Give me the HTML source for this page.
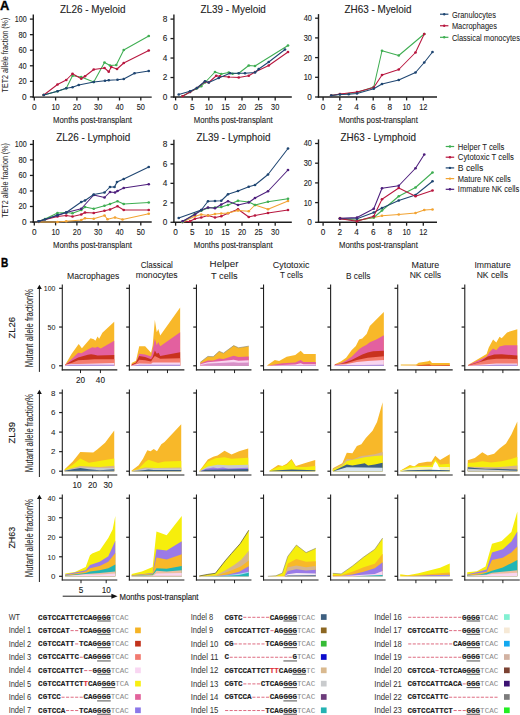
<!DOCTYPE html>
<html><head><meta charset="utf-8"><style>
html,body{margin:0;padding:0;background:#fff;overflow:hidden;}
svg{display:block;}
</style></head><body>
<svg width="520" height="715" viewBox="0 0 520 715">
<rect width="520" height="715" fill="#ffffff"/>
<text x="-0.10" y="9.60" font-size="12.2" font-family='"Liberation Sans", sans-serif' fill="#000" stroke="#000" stroke-width="0.35" font-weight="bold" textLength="9.3" lengthAdjust="spacingAndGlyphs">A</text>
<line x1="33.30" y1="14.60" x2="33.30" y2="97.80" stroke="#1e1e1e" stroke-width="1.4"/>
<line x1="29.90" y1="96.90" x2="33.30" y2="96.90" stroke="#1e1e1e" stroke-width="1.3"/>
<text x="26.70" y="99.80" font-size="8.2" font-family='"Liberation Sans", sans-serif' fill="#222222" stroke="#222222" stroke-width="0.1" text-anchor="end" textLength="4.6" lengthAdjust="spacingAndGlyphs">0</text>
<line x1="29.90" y1="81.34" x2="33.30" y2="81.34" stroke="#1e1e1e" stroke-width="1.3"/>
<text x="26.70" y="84.24" font-size="8.2" font-family='"Liberation Sans", sans-serif' fill="#222222" stroke="#222222" stroke-width="0.1" text-anchor="end" textLength="8.25" lengthAdjust="spacingAndGlyphs">20</text>
<line x1="29.90" y1="65.78" x2="33.30" y2="65.78" stroke="#1e1e1e" stroke-width="1.3"/>
<text x="26.70" y="68.68" font-size="8.2" font-family='"Liberation Sans", sans-serif' fill="#222222" stroke="#222222" stroke-width="0.1" text-anchor="end" textLength="8.25" lengthAdjust="spacingAndGlyphs">40</text>
<line x1="29.90" y1="50.22" x2="33.30" y2="50.22" stroke="#1e1e1e" stroke-width="1.3"/>
<text x="26.70" y="53.12" font-size="8.2" font-family='"Liberation Sans", sans-serif' fill="#222222" stroke="#222222" stroke-width="0.1" text-anchor="end" textLength="8.25" lengthAdjust="spacingAndGlyphs">60</text>
<line x1="29.90" y1="34.66" x2="33.30" y2="34.66" stroke="#1e1e1e" stroke-width="1.3"/>
<text x="26.70" y="37.56" font-size="8.2" font-family='"Liberation Sans", sans-serif' fill="#222222" stroke="#222222" stroke-width="0.1" text-anchor="end" textLength="8.25" lengthAdjust="spacingAndGlyphs">80</text>
<line x1="29.90" y1="19.10" x2="33.30" y2="19.10" stroke="#1e1e1e" stroke-width="1.3"/>
<text x="26.70" y="22.00" font-size="8.2" font-family='"Liberation Sans", sans-serif' fill="#222222" stroke="#222222" stroke-width="0.1" text-anchor="end" textLength="11.899999999999999" lengthAdjust="spacingAndGlyphs">100</text>
<line x1="32.60" y1="97.10" x2="151.70" y2="97.10" stroke="#1e1e1e" stroke-width="1.4"/>
<line x1="34.30" y1="97.10" x2="34.30" y2="100.50" stroke="#1e1e1e" stroke-width="1.3"/>
<text x="34.30" y="110.00" font-size="8.2" font-family='"Liberation Sans", sans-serif' fill="#222222" stroke="#222222" stroke-width="0.1" text-anchor="middle" textLength="4.6" lengthAdjust="spacingAndGlyphs">0</text>
<line x1="55.60" y1="97.10" x2="55.60" y2="100.50" stroke="#1e1e1e" stroke-width="1.3"/>
<text x="55.60" y="110.00" font-size="8.2" font-family='"Liberation Sans", sans-serif' fill="#222222" stroke="#222222" stroke-width="0.1" text-anchor="middle" textLength="8.25" lengthAdjust="spacingAndGlyphs">10</text>
<line x1="76.90" y1="97.10" x2="76.90" y2="100.50" stroke="#1e1e1e" stroke-width="1.3"/>
<text x="76.90" y="110.00" font-size="8.2" font-family='"Liberation Sans", sans-serif' fill="#222222" stroke="#222222" stroke-width="0.1" text-anchor="middle" textLength="8.25" lengthAdjust="spacingAndGlyphs">20</text>
<line x1="98.20" y1="97.10" x2="98.20" y2="100.50" stroke="#1e1e1e" stroke-width="1.3"/>
<text x="98.20" y="110.00" font-size="8.2" font-family='"Liberation Sans", sans-serif' fill="#222222" stroke="#222222" stroke-width="0.1" text-anchor="middle" textLength="8.25" lengthAdjust="spacingAndGlyphs">30</text>
<line x1="119.50" y1="97.10" x2="119.50" y2="100.50" stroke="#1e1e1e" stroke-width="1.3"/>
<text x="119.50" y="110.00" font-size="8.2" font-family='"Liberation Sans", sans-serif' fill="#222222" stroke="#222222" stroke-width="0.1" text-anchor="middle" textLength="8.25" lengthAdjust="spacingAndGlyphs">40</text>
<line x1="140.80" y1="97.10" x2="140.80" y2="100.50" stroke="#1e1e1e" stroke-width="1.3"/>
<text x="140.80" y="110.00" font-size="8.2" font-family='"Liberation Sans", sans-serif' fill="#222222" stroke="#222222" stroke-width="0.1" text-anchor="middle" textLength="8.25" lengthAdjust="spacingAndGlyphs">50</text>
<text x="53.10" y="122.60" font-size="9.9" font-family='"Liberation Sans", sans-serif' fill="#222222" stroke="#222222" stroke-width="0.1" textLength="78.8" lengthAdjust="spacingAndGlyphs">Months post-transplant</text>
<text x="60.00" y="12.60" font-size="10.6" font-family='"Liberation Sans", sans-serif' fill="#222222" stroke="#222222" stroke-width="0.1" textLength="65.5" lengthAdjust="spacingAndGlyphs">ZL26 - Myeloid</text>
<polyline points="43.75,95.00 57.50,91.25 66.25,88.25 72.50,75.75 81.25,77.00 93.75,82.00 104.50,62.50 110.00,65.50 116.25,65.00 123.75,50.00 148.75,36.00" fill="none" stroke="#3fae52" stroke-width="1.05" stroke-linejoin="round"/>
<circle cx="43.75" cy="95.00" r="1.35" fill="#3fae52"/>
<circle cx="57.50" cy="91.25" r="1.35" fill="#3fae52"/>
<circle cx="66.25" cy="88.25" r="1.35" fill="#3fae52"/>
<circle cx="72.50" cy="75.75" r="1.35" fill="#3fae52"/>
<circle cx="81.25" cy="77.00" r="1.35" fill="#3fae52"/>
<circle cx="93.75" cy="82.00" r="1.35" fill="#3fae52"/>
<circle cx="104.50" cy="62.50" r="1.35" fill="#3fae52"/>
<circle cx="110.00" cy="65.50" r="1.35" fill="#3fae52"/>
<circle cx="116.25" cy="65.00" r="1.35" fill="#3fae52"/>
<circle cx="123.75" cy="50.00" r="1.35" fill="#3fae52"/>
<circle cx="148.75" cy="36.00" r="1.35" fill="#3fae52"/>
<polyline points="43.75,95.00 57.50,84.50 66.25,80.00 72.50,73.75 81.25,78.75 85.00,76.25 93.75,69.50 104.50,68.00 108.75,71.75 111.25,67.00 117.00,69.00 123.75,63.00 148.75,50.50" fill="none" stroke="#b8173f" stroke-width="1.05" stroke-linejoin="round"/>
<circle cx="43.75" cy="95.00" r="1.35" fill="#b8173f"/>
<circle cx="57.50" cy="84.50" r="1.35" fill="#b8173f"/>
<circle cx="66.25" cy="80.00" r="1.35" fill="#b8173f"/>
<circle cx="72.50" cy="73.75" r="1.35" fill="#b8173f"/>
<circle cx="81.25" cy="78.75" r="1.35" fill="#b8173f"/>
<circle cx="85.00" cy="76.25" r="1.35" fill="#b8173f"/>
<circle cx="93.75" cy="69.50" r="1.35" fill="#b8173f"/>
<circle cx="104.50" cy="68.00" r="1.35" fill="#b8173f"/>
<circle cx="108.75" cy="71.75" r="1.35" fill="#b8173f"/>
<circle cx="111.25" cy="67.00" r="1.35" fill="#b8173f"/>
<circle cx="117.00" cy="69.00" r="1.35" fill="#b8173f"/>
<circle cx="123.75" cy="63.00" r="1.35" fill="#b8173f"/>
<circle cx="148.75" cy="50.50" r="1.35" fill="#b8173f"/>
<polyline points="43.75,95.00 57.50,91.25 66.25,88.25 72.50,87.25 78.75,85.00 93.75,82.00 105.00,80.75 108.75,80.25 117.50,79.75 123.75,79.00 134.50,73.25 148.75,71.00" fill="none" stroke="#1f4672" stroke-width="1.05" stroke-linejoin="round"/>
<circle cx="43.75" cy="95.00" r="1.35" fill="#1f4672"/>
<circle cx="57.50" cy="91.25" r="1.35" fill="#1f4672"/>
<circle cx="66.25" cy="88.25" r="1.35" fill="#1f4672"/>
<circle cx="72.50" cy="87.25" r="1.35" fill="#1f4672"/>
<circle cx="78.75" cy="85.00" r="1.35" fill="#1f4672"/>
<circle cx="93.75" cy="82.00" r="1.35" fill="#1f4672"/>
<circle cx="105.00" cy="80.75" r="1.35" fill="#1f4672"/>
<circle cx="108.75" cy="80.25" r="1.35" fill="#1f4672"/>
<circle cx="117.50" cy="79.75" r="1.35" fill="#1f4672"/>
<circle cx="123.75" cy="79.00" r="1.35" fill="#1f4672"/>
<circle cx="134.50" cy="73.25" r="1.35" fill="#1f4672"/>
<circle cx="148.75" cy="71.00" r="1.35" fill="#1f4672"/>
<line x1="173.90" y1="14.50" x2="173.90" y2="97.70" stroke="#1e1e1e" stroke-width="1.4"/>
<line x1="170.50" y1="97.00" x2="173.90" y2="97.00" stroke="#1e1e1e" stroke-width="1.3"/>
<text x="167.30" y="99.90" font-size="8.2" font-family='"Liberation Sans", sans-serif' fill="#222222" stroke="#222222" stroke-width="0.1" text-anchor="end" textLength="4.6" lengthAdjust="spacingAndGlyphs">0</text>
<line x1="170.50" y1="77.53" x2="173.90" y2="77.53" stroke="#1e1e1e" stroke-width="1.3"/>
<text x="167.30" y="80.43" font-size="8.2" font-family='"Liberation Sans", sans-serif' fill="#222222" stroke="#222222" stroke-width="0.1" text-anchor="end" textLength="4.6" lengthAdjust="spacingAndGlyphs">2</text>
<line x1="170.50" y1="58.05" x2="173.90" y2="58.05" stroke="#1e1e1e" stroke-width="1.3"/>
<text x="167.30" y="60.95" font-size="8.2" font-family='"Liberation Sans", sans-serif' fill="#222222" stroke="#222222" stroke-width="0.1" text-anchor="end" textLength="4.6" lengthAdjust="spacingAndGlyphs">4</text>
<line x1="170.50" y1="38.57" x2="173.90" y2="38.57" stroke="#1e1e1e" stroke-width="1.3"/>
<text x="167.30" y="41.47" font-size="8.2" font-family='"Liberation Sans", sans-serif' fill="#222222" stroke="#222222" stroke-width="0.1" text-anchor="end" textLength="4.6" lengthAdjust="spacingAndGlyphs">6</text>
<line x1="170.50" y1="19.10" x2="173.90" y2="19.10" stroke="#1e1e1e" stroke-width="1.3"/>
<text x="167.30" y="22.00" font-size="8.2" font-family='"Liberation Sans", sans-serif' fill="#222222" stroke="#222222" stroke-width="0.1" text-anchor="end" textLength="4.6" lengthAdjust="spacingAndGlyphs">8</text>
<line x1="173.20" y1="97.00" x2="291.80" y2="97.00" stroke="#1e1e1e" stroke-width="1.4"/>
<line x1="175.60" y1="97.00" x2="175.60" y2="100.40" stroke="#1e1e1e" stroke-width="1.3"/>
<text x="175.60" y="109.90" font-size="8.2" font-family='"Liberation Sans", sans-serif' fill="#222222" stroke="#222222" stroke-width="0.1" text-anchor="middle" textLength="4.6" lengthAdjust="spacingAndGlyphs">0</text>
<line x1="192.20" y1="97.00" x2="192.20" y2="100.40" stroke="#1e1e1e" stroke-width="1.3"/>
<text x="192.20" y="109.90" font-size="8.2" font-family='"Liberation Sans", sans-serif' fill="#222222" stroke="#222222" stroke-width="0.1" text-anchor="middle" textLength="4.6" lengthAdjust="spacingAndGlyphs">5</text>
<line x1="208.80" y1="97.00" x2="208.80" y2="100.40" stroke="#1e1e1e" stroke-width="1.3"/>
<text x="208.80" y="109.90" font-size="8.2" font-family='"Liberation Sans", sans-serif' fill="#222222" stroke="#222222" stroke-width="0.1" text-anchor="middle" textLength="8.25" lengthAdjust="spacingAndGlyphs">10</text>
<line x1="225.40" y1="97.00" x2="225.40" y2="100.40" stroke="#1e1e1e" stroke-width="1.3"/>
<text x="225.40" y="109.90" font-size="8.2" font-family='"Liberation Sans", sans-serif' fill="#222222" stroke="#222222" stroke-width="0.1" text-anchor="middle" textLength="8.25" lengthAdjust="spacingAndGlyphs">15</text>
<line x1="242.00" y1="97.00" x2="242.00" y2="100.40" stroke="#1e1e1e" stroke-width="1.3"/>
<text x="242.00" y="109.90" font-size="8.2" font-family='"Liberation Sans", sans-serif' fill="#222222" stroke="#222222" stroke-width="0.1" text-anchor="middle" textLength="8.25" lengthAdjust="spacingAndGlyphs">20</text>
<line x1="258.60" y1="97.00" x2="258.60" y2="100.40" stroke="#1e1e1e" stroke-width="1.3"/>
<text x="258.60" y="109.90" font-size="8.2" font-family='"Liberation Sans", sans-serif' fill="#222222" stroke="#222222" stroke-width="0.1" text-anchor="middle" textLength="8.25" lengthAdjust="spacingAndGlyphs">25</text>
<line x1="275.20" y1="97.00" x2="275.20" y2="100.40" stroke="#1e1e1e" stroke-width="1.3"/>
<text x="275.20" y="109.90" font-size="8.2" font-family='"Liberation Sans", sans-serif' fill="#222222" stroke="#222222" stroke-width="0.1" text-anchor="middle" textLength="8.25" lengthAdjust="spacingAndGlyphs">30</text>
<text x="193.80" y="122.50" font-size="9.9" font-family='"Liberation Sans", sans-serif' fill="#222222" stroke="#222222" stroke-width="0.1" textLength="78.8" lengthAdjust="spacingAndGlyphs">Months post-transplant</text>
<text x="200.40" y="12.60" font-size="10.6" font-family='"Liberation Sans", sans-serif' fill="#222222" stroke="#222222" stroke-width="0.1" textLength="65.5" lengthAdjust="spacingAndGlyphs">ZL39 - Myeloid</text>
<polyline points="182.50,96.25 190.00,92.00 196.25,88.75 201.25,86.25 205.00,82.50 215.00,72.00 221.25,74.00 228.75,72.50 232.50,73.75 238.75,73.25 248.75,65.50 255.00,66.00 288.00,45.50" fill="none" stroke="#3fae52" stroke-width="1.05" stroke-linejoin="round"/>
<circle cx="182.50" cy="96.25" r="1.35" fill="#3fae52"/>
<circle cx="190.00" cy="92.00" r="1.35" fill="#3fae52"/>
<circle cx="196.25" cy="88.75" r="1.35" fill="#3fae52"/>
<circle cx="201.25" cy="86.25" r="1.35" fill="#3fae52"/>
<circle cx="205.00" cy="82.50" r="1.35" fill="#3fae52"/>
<circle cx="215.00" cy="72.00" r="1.35" fill="#3fae52"/>
<circle cx="221.25" cy="74.00" r="1.35" fill="#3fae52"/>
<circle cx="228.75" cy="72.50" r="1.35" fill="#3fae52"/>
<circle cx="232.50" cy="73.75" r="1.35" fill="#3fae52"/>
<circle cx="238.75" cy="73.25" r="1.35" fill="#3fae52"/>
<circle cx="248.75" cy="65.50" r="1.35" fill="#3fae52"/>
<circle cx="255.00" cy="66.00" r="1.35" fill="#3fae52"/>
<circle cx="288.00" cy="45.50" r="1.35" fill="#3fae52"/>
<polyline points="182.50,96.25 190.00,92.00 197.00,88.00 205.00,81.75 208.75,82.50 216.25,75.75 220.00,76.25 228.75,77.00 238.75,77.50 248.75,75.75 255.00,72.00 268.75,65.50 288.00,52.00" fill="none" stroke="#b8173f" stroke-width="1.05" stroke-linejoin="round"/>
<circle cx="182.50" cy="96.25" r="1.35" fill="#b8173f"/>
<circle cx="190.00" cy="92.00" r="1.35" fill="#b8173f"/>
<circle cx="197.00" cy="88.00" r="1.35" fill="#b8173f"/>
<circle cx="205.00" cy="81.75" r="1.35" fill="#b8173f"/>
<circle cx="208.75" cy="82.50" r="1.35" fill="#b8173f"/>
<circle cx="216.25" cy="75.75" r="1.35" fill="#b8173f"/>
<circle cx="220.00" cy="76.25" r="1.35" fill="#b8173f"/>
<circle cx="228.75" cy="77.00" r="1.35" fill="#b8173f"/>
<circle cx="238.75" cy="77.50" r="1.35" fill="#b8173f"/>
<circle cx="248.75" cy="75.75" r="1.35" fill="#b8173f"/>
<circle cx="255.00" cy="72.00" r="1.35" fill="#b8173f"/>
<circle cx="268.75" cy="65.50" r="1.35" fill="#b8173f"/>
<circle cx="288.00" cy="52.00" r="1.35" fill="#b8173f"/>
<polyline points="178.75,94.50 190.00,91.25 197.00,88.00 205.00,81.25 208.75,82.50 218.75,78.00 230.00,73.25 238.75,73.25 245.00,73.25 255.00,72.50 258.75,69.00 268.75,62.00 285.00,49.50" fill="none" stroke="#1f4672" stroke-width="1.05" stroke-linejoin="round"/>
<circle cx="178.75" cy="94.50" r="1.35" fill="#1f4672"/>
<circle cx="190.00" cy="91.25" r="1.35" fill="#1f4672"/>
<circle cx="197.00" cy="88.00" r="1.35" fill="#1f4672"/>
<circle cx="205.00" cy="81.25" r="1.35" fill="#1f4672"/>
<circle cx="208.75" cy="82.50" r="1.35" fill="#1f4672"/>
<circle cx="218.75" cy="78.00" r="1.35" fill="#1f4672"/>
<circle cx="230.00" cy="73.25" r="1.35" fill="#1f4672"/>
<circle cx="238.75" cy="73.25" r="1.35" fill="#1f4672"/>
<circle cx="245.00" cy="73.25" r="1.35" fill="#1f4672"/>
<circle cx="255.00" cy="72.50" r="1.35" fill="#1f4672"/>
<circle cx="258.75" cy="69.00" r="1.35" fill="#1f4672"/>
<circle cx="268.75" cy="62.00" r="1.35" fill="#1f4672"/>
<circle cx="285.00" cy="49.50" r="1.35" fill="#1f4672"/>
<line x1="318.50" y1="14.10" x2="318.50" y2="97.70" stroke="#1e1e1e" stroke-width="1.4"/>
<line x1="315.10" y1="97.00" x2="318.50" y2="97.00" stroke="#1e1e1e" stroke-width="1.3"/>
<text x="311.90" y="99.90" font-size="8.2" font-family='"Liberation Sans", sans-serif' fill="#222222" stroke="#222222" stroke-width="0.1" text-anchor="end" textLength="4.6" lengthAdjust="spacingAndGlyphs">0</text>
<line x1="315.10" y1="77.30" x2="318.50" y2="77.30" stroke="#1e1e1e" stroke-width="1.3"/>
<text x="311.90" y="80.20" font-size="8.2" font-family='"Liberation Sans", sans-serif' fill="#222222" stroke="#222222" stroke-width="0.1" text-anchor="end" textLength="8.25" lengthAdjust="spacingAndGlyphs">10</text>
<line x1="315.10" y1="57.60" x2="318.50" y2="57.60" stroke="#1e1e1e" stroke-width="1.3"/>
<text x="311.90" y="60.50" font-size="8.2" font-family='"Liberation Sans", sans-serif' fill="#222222" stroke="#222222" stroke-width="0.1" text-anchor="end" textLength="8.25" lengthAdjust="spacingAndGlyphs">20</text>
<line x1="315.10" y1="37.90" x2="318.50" y2="37.90" stroke="#1e1e1e" stroke-width="1.3"/>
<text x="311.90" y="40.80" font-size="8.2" font-family='"Liberation Sans", sans-serif' fill="#222222" stroke="#222222" stroke-width="0.1" text-anchor="end" textLength="8.25" lengthAdjust="spacingAndGlyphs">30</text>
<line x1="315.10" y1="18.20" x2="318.50" y2="18.20" stroke="#1e1e1e" stroke-width="1.3"/>
<text x="311.90" y="21.10" font-size="8.2" font-family='"Liberation Sans", sans-serif' fill="#222222" stroke="#222222" stroke-width="0.1" text-anchor="end" textLength="8.25" lengthAdjust="spacingAndGlyphs">40</text>
<line x1="317.80" y1="97.00" x2="437.00" y2="97.00" stroke="#1e1e1e" stroke-width="1.4"/>
<line x1="323.10" y1="97.00" x2="323.10" y2="100.40" stroke="#1e1e1e" stroke-width="1.3"/>
<text x="323.10" y="109.90" font-size="8.2" font-family='"Liberation Sans", sans-serif' fill="#222222" stroke="#222222" stroke-width="0.1" text-anchor="middle" textLength="4.6" lengthAdjust="spacingAndGlyphs">0</text>
<line x1="339.80" y1="97.00" x2="339.80" y2="100.40" stroke="#1e1e1e" stroke-width="1.3"/>
<text x="339.80" y="109.90" font-size="8.2" font-family='"Liberation Sans", sans-serif' fill="#222222" stroke="#222222" stroke-width="0.1" text-anchor="middle" textLength="4.6" lengthAdjust="spacingAndGlyphs">2</text>
<line x1="356.50" y1="97.00" x2="356.50" y2="100.40" stroke="#1e1e1e" stroke-width="1.3"/>
<text x="356.50" y="109.90" font-size="8.2" font-family='"Liberation Sans", sans-serif' fill="#222222" stroke="#222222" stroke-width="0.1" text-anchor="middle" textLength="4.6" lengthAdjust="spacingAndGlyphs">4</text>
<line x1="373.20" y1="97.00" x2="373.20" y2="100.40" stroke="#1e1e1e" stroke-width="1.3"/>
<text x="373.20" y="109.90" font-size="8.2" font-family='"Liberation Sans", sans-serif' fill="#222222" stroke="#222222" stroke-width="0.1" text-anchor="middle" textLength="4.6" lengthAdjust="spacingAndGlyphs">6</text>
<line x1="389.90" y1="97.00" x2="389.90" y2="100.40" stroke="#1e1e1e" stroke-width="1.3"/>
<text x="389.90" y="109.90" font-size="8.2" font-family='"Liberation Sans", sans-serif' fill="#222222" stroke="#222222" stroke-width="0.1" text-anchor="middle" textLength="4.6" lengthAdjust="spacingAndGlyphs">8</text>
<line x1="406.60" y1="97.00" x2="406.60" y2="100.40" stroke="#1e1e1e" stroke-width="1.3"/>
<text x="406.60" y="109.90" font-size="8.2" font-family='"Liberation Sans", sans-serif' fill="#222222" stroke="#222222" stroke-width="0.1" text-anchor="middle" textLength="8.25" lengthAdjust="spacingAndGlyphs">10</text>
<line x1="423.30" y1="97.00" x2="423.30" y2="100.40" stroke="#1e1e1e" stroke-width="1.3"/>
<text x="423.30" y="109.90" font-size="8.2" font-family='"Liberation Sans", sans-serif' fill="#222222" stroke="#222222" stroke-width="0.1" text-anchor="middle" textLength="8.25" lengthAdjust="spacingAndGlyphs">12</text>
<text x="339.00" y="122.50" font-size="9.9" font-family='"Liberation Sans", sans-serif' fill="#222222" stroke="#222222" stroke-width="0.1" textLength="78.8" lengthAdjust="spacingAndGlyphs">Months post-transplant</text>
<text x="344.50" y="12.60" font-size="10.6" font-family='"Liberation Sans", sans-serif' fill="#222222" stroke="#222222" stroke-width="0.1" textLength="67" lengthAdjust="spacingAndGlyphs">ZH63 - Myeloid</text>
<polyline points="331.25,95.50 340.00,94.25 357.00,92.50 373.75,87.00 382.00,50.75 398.75,55.50 424.25,34.00" fill="none" stroke="#3fae52" stroke-width="1.05" stroke-linejoin="round"/>
<circle cx="331.25" cy="95.50" r="1.35" fill="#3fae52"/>
<circle cx="340.00" cy="94.25" r="1.35" fill="#3fae52"/>
<circle cx="357.00" cy="92.50" r="1.35" fill="#3fae52"/>
<circle cx="373.75" cy="87.00" r="1.35" fill="#3fae52"/>
<circle cx="382.00" cy="50.75" r="1.35" fill="#3fae52"/>
<circle cx="398.75" cy="55.50" r="1.35" fill="#3fae52"/>
<circle cx="424.25" cy="34.00" r="1.35" fill="#3fae52"/>
<polyline points="331.25,95.50 340.00,94.00 357.00,92.00 373.75,87.50 382.00,75.00 398.75,69.50 415.50,52.50 424.25,34.00" fill="none" stroke="#b8173f" stroke-width="1.05" stroke-linejoin="round"/>
<circle cx="331.25" cy="95.50" r="1.35" fill="#b8173f"/>
<circle cx="340.00" cy="94.00" r="1.35" fill="#b8173f"/>
<circle cx="357.00" cy="92.00" r="1.35" fill="#b8173f"/>
<circle cx="373.75" cy="87.50" r="1.35" fill="#b8173f"/>
<circle cx="382.00" cy="75.00" r="1.35" fill="#b8173f"/>
<circle cx="398.75" cy="69.50" r="1.35" fill="#b8173f"/>
<circle cx="415.50" cy="52.50" r="1.35" fill="#b8173f"/>
<circle cx="424.25" cy="34.00" r="1.35" fill="#b8173f"/>
<polyline points="331.25,95.50 340.00,94.50 348.75,94.25 357.00,93.50 373.75,88.75 382.00,84.00 398.75,80.00 415.50,72.50 424.25,62.50 432.50,52.00" fill="none" stroke="#1f4672" stroke-width="1.05" stroke-linejoin="round"/>
<circle cx="331.25" cy="95.50" r="1.35" fill="#1f4672"/>
<circle cx="340.00" cy="94.50" r="1.35" fill="#1f4672"/>
<circle cx="348.75" cy="94.25" r="1.35" fill="#1f4672"/>
<circle cx="357.00" cy="93.50" r="1.35" fill="#1f4672"/>
<circle cx="373.75" cy="88.75" r="1.35" fill="#1f4672"/>
<circle cx="382.00" cy="84.00" r="1.35" fill="#1f4672"/>
<circle cx="398.75" cy="80.00" r="1.35" fill="#1f4672"/>
<circle cx="415.50" cy="72.50" r="1.35" fill="#1f4672"/>
<circle cx="424.25" cy="62.50" r="1.35" fill="#1f4672"/>
<circle cx="432.50" cy="52.00" r="1.35" fill="#1f4672"/>
<line x1="440.00" y1="14.20" x2="448.40" y2="14.20" stroke="#1f4672" stroke-width="1.2"/>
<circle cx="444.2" cy="14.2" r="1.2" fill="#1f4672"/>
<text x="451.90" y="17.50" font-size="8.7" font-family='"Liberation Sans", sans-serif' fill="#222222" stroke="#222222" stroke-width="0.05" textLength="44" lengthAdjust="spacingAndGlyphs">Granulocytes</text>
<line x1="440.00" y1="25.75" x2="448.40" y2="25.75" stroke="#b8173f" stroke-width="1.2"/>
<circle cx="444.2" cy="25.75" r="1.2" fill="#b8173f"/>
<text x="451.90" y="29.05" font-size="8.7" font-family='"Liberation Sans", sans-serif' fill="#222222" stroke="#222222" stroke-width="0.05" textLength="45" lengthAdjust="spacingAndGlyphs">Macrophages</text>
<line x1="440.00" y1="37.30" x2="448.40" y2="37.30" stroke="#3fae52" stroke-width="1.2"/>
<circle cx="444.2" cy="37.3" r="1.2" fill="#3fae52"/>
<text x="451.90" y="40.60" font-size="8.7" font-family='"Liberation Sans", sans-serif' fill="#222222" stroke="#222222" stroke-width="0.05" textLength="68" lengthAdjust="spacingAndGlyphs">Classical monocytes</text>
<text transform="translate(8.10,55.10) rotate(-90)" font-size="9" font-family='"Liberation Sans", sans-serif' fill="#222222" text-anchor="middle" textLength="74.8" lengthAdjust="spacingAndGlyphs">TET2 allele fraction (%)</text>
<line x1="33.30" y1="139.90" x2="33.30" y2="222.70" stroke="#1e1e1e" stroke-width="1.4"/>
<line x1="29.90" y1="222.00" x2="33.30" y2="222.00" stroke="#1e1e1e" stroke-width="1.3"/>
<text x="26.70" y="224.90" font-size="8.2" font-family='"Liberation Sans", sans-serif' fill="#222222" stroke="#222222" stroke-width="0.1" text-anchor="end" textLength="4.6" lengthAdjust="spacingAndGlyphs">0</text>
<line x1="29.90" y1="206.48" x2="33.30" y2="206.48" stroke="#1e1e1e" stroke-width="1.3"/>
<text x="26.70" y="209.38" font-size="8.2" font-family='"Liberation Sans", sans-serif' fill="#222222" stroke="#222222" stroke-width="0.1" text-anchor="end" textLength="8.25" lengthAdjust="spacingAndGlyphs">20</text>
<line x1="29.90" y1="190.96" x2="33.30" y2="190.96" stroke="#1e1e1e" stroke-width="1.3"/>
<text x="26.70" y="193.86" font-size="8.2" font-family='"Liberation Sans", sans-serif' fill="#222222" stroke="#222222" stroke-width="0.1" text-anchor="end" textLength="8.25" lengthAdjust="spacingAndGlyphs">40</text>
<line x1="29.90" y1="175.44" x2="33.30" y2="175.44" stroke="#1e1e1e" stroke-width="1.3"/>
<text x="26.70" y="178.34" font-size="8.2" font-family='"Liberation Sans", sans-serif' fill="#222222" stroke="#222222" stroke-width="0.1" text-anchor="end" textLength="8.25" lengthAdjust="spacingAndGlyphs">60</text>
<line x1="29.90" y1="159.92" x2="33.30" y2="159.92" stroke="#1e1e1e" stroke-width="1.3"/>
<text x="26.70" y="162.82" font-size="8.2" font-family='"Liberation Sans", sans-serif' fill="#222222" stroke="#222222" stroke-width="0.1" text-anchor="end" textLength="8.25" lengthAdjust="spacingAndGlyphs">80</text>
<line x1="29.90" y1="144.40" x2="33.30" y2="144.40" stroke="#1e1e1e" stroke-width="1.3"/>
<text x="26.70" y="147.30" font-size="8.2" font-family='"Liberation Sans", sans-serif' fill="#222222" stroke="#222222" stroke-width="0.1" text-anchor="end" textLength="11.899999999999999" lengthAdjust="spacingAndGlyphs">100</text>
<line x1="32.60" y1="222.00" x2="151.70" y2="222.00" stroke="#1e1e1e" stroke-width="1.4"/>
<line x1="34.30" y1="222.00" x2="34.30" y2="225.40" stroke="#1e1e1e" stroke-width="1.3"/>
<text x="34.30" y="234.90" font-size="8.2" font-family='"Liberation Sans", sans-serif' fill="#222222" stroke="#222222" stroke-width="0.1" text-anchor="middle" textLength="4.6" lengthAdjust="spacingAndGlyphs">0</text>
<line x1="55.60" y1="222.00" x2="55.60" y2="225.40" stroke="#1e1e1e" stroke-width="1.3"/>
<text x="55.60" y="234.90" font-size="8.2" font-family='"Liberation Sans", sans-serif' fill="#222222" stroke="#222222" stroke-width="0.1" text-anchor="middle" textLength="8.25" lengthAdjust="spacingAndGlyphs">10</text>
<line x1="76.90" y1="222.00" x2="76.90" y2="225.40" stroke="#1e1e1e" stroke-width="1.3"/>
<text x="76.90" y="234.90" font-size="8.2" font-family='"Liberation Sans", sans-serif' fill="#222222" stroke="#222222" stroke-width="0.1" text-anchor="middle" textLength="8.25" lengthAdjust="spacingAndGlyphs">20</text>
<line x1="98.20" y1="222.00" x2="98.20" y2="225.40" stroke="#1e1e1e" stroke-width="1.3"/>
<text x="98.20" y="234.90" font-size="8.2" font-family='"Liberation Sans", sans-serif' fill="#222222" stroke="#222222" stroke-width="0.1" text-anchor="middle" textLength="8.25" lengthAdjust="spacingAndGlyphs">30</text>
<line x1="119.50" y1="222.00" x2="119.50" y2="225.40" stroke="#1e1e1e" stroke-width="1.3"/>
<text x="119.50" y="234.90" font-size="8.2" font-family='"Liberation Sans", sans-serif' fill="#222222" stroke="#222222" stroke-width="0.1" text-anchor="middle" textLength="8.25" lengthAdjust="spacingAndGlyphs">40</text>
<line x1="140.80" y1="222.00" x2="140.80" y2="225.40" stroke="#1e1e1e" stroke-width="1.3"/>
<text x="140.80" y="234.90" font-size="8.2" font-family='"Liberation Sans", sans-serif' fill="#222222" stroke="#222222" stroke-width="0.1" text-anchor="middle" textLength="8.25" lengthAdjust="spacingAndGlyphs">50</text>
<text x="53.10" y="247.50" font-size="9.9" font-family='"Liberation Sans", sans-serif' fill="#222222" stroke="#222222" stroke-width="0.1" textLength="78.8" lengthAdjust="spacingAndGlyphs">Months post-transplant</text>
<text x="56.20" y="140.80" font-size="10.6" font-family='"Liberation Sans", sans-serif' fill="#222222" stroke="#222222" stroke-width="0.1" textLength="74" lengthAdjust="spacingAndGlyphs">ZL26 - Lymphoid</text>
<polyline points="38.75,222.00 57.50,222.00 66.25,221.25 81.25,220.00 85.00,218.25 93.75,218.75 104.50,215.50 107.50,219.25 115.00,217.50 122.50,219.50 148.75,213.75" fill="none" stroke="#f2a332" stroke-width="1.05" stroke-linejoin="round"/>
<circle cx="38.75" cy="222.00" r="1.35" fill="#f2a332"/>
<circle cx="57.50" cy="222.00" r="1.35" fill="#f2a332"/>
<circle cx="66.25" cy="221.25" r="1.35" fill="#f2a332"/>
<circle cx="81.25" cy="220.00" r="1.35" fill="#f2a332"/>
<circle cx="85.00" cy="218.25" r="1.35" fill="#f2a332"/>
<circle cx="93.75" cy="218.75" r="1.35" fill="#f2a332"/>
<circle cx="104.50" cy="215.50" r="1.35" fill="#f2a332"/>
<circle cx="107.50" cy="219.25" r="1.35" fill="#f2a332"/>
<circle cx="115.00" cy="217.50" r="1.35" fill="#f2a332"/>
<circle cx="122.50" cy="219.50" r="1.35" fill="#f2a332"/>
<circle cx="148.75" cy="213.75" r="1.35" fill="#f2a332"/>
<polyline points="38.75,221.25 57.50,216.50 66.25,215.50 72.50,216.50 81.25,214.50 85.00,212.50 93.75,213.00 104.50,210.75 110.00,209.50 117.50,206.25 123.75,210.00 148.75,210.00" fill="none" stroke="#b8173f" stroke-width="1.05" stroke-linejoin="round"/>
<circle cx="38.75" cy="221.25" r="1.35" fill="#b8173f"/>
<circle cx="57.50" cy="216.50" r="1.35" fill="#b8173f"/>
<circle cx="66.25" cy="215.50" r="1.35" fill="#b8173f"/>
<circle cx="72.50" cy="216.50" r="1.35" fill="#b8173f"/>
<circle cx="81.25" cy="214.50" r="1.35" fill="#b8173f"/>
<circle cx="85.00" cy="212.50" r="1.35" fill="#b8173f"/>
<circle cx="93.75" cy="213.00" r="1.35" fill="#b8173f"/>
<circle cx="104.50" cy="210.75" r="1.35" fill="#b8173f"/>
<circle cx="110.00" cy="209.50" r="1.35" fill="#b8173f"/>
<circle cx="117.50" cy="206.25" r="1.35" fill="#b8173f"/>
<circle cx="123.75" cy="210.00" r="1.35" fill="#b8173f"/>
<circle cx="148.75" cy="210.00" r="1.35" fill="#b8173f"/>
<polyline points="38.75,221.25 45.00,219.00 57.50,213.00 66.25,212.50 72.50,213.25 81.25,210.00 85.00,207.00 93.75,208.75 104.50,205.75 110.00,204.00 117.50,201.25 123.75,204.00 148.75,202.50" fill="none" stroke="#3fae52" stroke-width="1.05" stroke-linejoin="round"/>
<circle cx="38.75" cy="221.25" r="1.35" fill="#3fae52"/>
<circle cx="45.00" cy="219.00" r="1.35" fill="#3fae52"/>
<circle cx="57.50" cy="213.00" r="1.35" fill="#3fae52"/>
<circle cx="66.25" cy="212.50" r="1.35" fill="#3fae52"/>
<circle cx="72.50" cy="213.25" r="1.35" fill="#3fae52"/>
<circle cx="81.25" cy="210.00" r="1.35" fill="#3fae52"/>
<circle cx="85.00" cy="207.00" r="1.35" fill="#3fae52"/>
<circle cx="93.75" cy="208.75" r="1.35" fill="#3fae52"/>
<circle cx="104.50" cy="205.75" r="1.35" fill="#3fae52"/>
<circle cx="110.00" cy="204.00" r="1.35" fill="#3fae52"/>
<circle cx="117.50" cy="201.25" r="1.35" fill="#3fae52"/>
<circle cx="123.75" cy="204.00" r="1.35" fill="#3fae52"/>
<circle cx="148.75" cy="202.50" r="1.35" fill="#3fae52"/>
<polyline points="38.75,221.25 57.50,215.50 66.25,212.50 81.25,208.75 93.75,195.00 104.50,197.50 110.00,192.00 115.00,192.50 117.50,191.00 123.75,188.00 148.75,184.25" fill="none" stroke="#4e1f7d" stroke-width="1.05" stroke-linejoin="round"/>
<circle cx="38.75" cy="221.25" r="1.35" fill="#4e1f7d"/>
<circle cx="57.50" cy="215.50" r="1.35" fill="#4e1f7d"/>
<circle cx="66.25" cy="212.50" r="1.35" fill="#4e1f7d"/>
<circle cx="81.25" cy="208.75" r="1.35" fill="#4e1f7d"/>
<circle cx="93.75" cy="195.00" r="1.35" fill="#4e1f7d"/>
<circle cx="104.50" cy="197.50" r="1.35" fill="#4e1f7d"/>
<circle cx="110.00" cy="192.00" r="1.35" fill="#4e1f7d"/>
<circle cx="115.00" cy="192.50" r="1.35" fill="#4e1f7d"/>
<circle cx="117.50" cy="191.00" r="1.35" fill="#4e1f7d"/>
<circle cx="123.75" cy="188.00" r="1.35" fill="#4e1f7d"/>
<circle cx="148.75" cy="184.25" r="1.35" fill="#4e1f7d"/>
<polyline points="38.75,221.25 45.00,219.50 57.50,215.00 66.25,212.50 81.25,202.00 85.00,200.50 93.75,194.50 104.50,192.50 110.00,187.00 114.50,187.00 117.00,182.00 123.75,179.00 148.75,167.00" fill="none" stroke="#1f4672" stroke-width="1.05" stroke-linejoin="round"/>
<circle cx="38.75" cy="221.25" r="1.35" fill="#1f4672"/>
<circle cx="45.00" cy="219.50" r="1.35" fill="#1f4672"/>
<circle cx="57.50" cy="215.00" r="1.35" fill="#1f4672"/>
<circle cx="66.25" cy="212.50" r="1.35" fill="#1f4672"/>
<circle cx="81.25" cy="202.00" r="1.35" fill="#1f4672"/>
<circle cx="85.00" cy="200.50" r="1.35" fill="#1f4672"/>
<circle cx="93.75" cy="194.50" r="1.35" fill="#1f4672"/>
<circle cx="104.50" cy="192.50" r="1.35" fill="#1f4672"/>
<circle cx="110.00" cy="187.00" r="1.35" fill="#1f4672"/>
<circle cx="114.50" cy="187.00" r="1.35" fill="#1f4672"/>
<circle cx="117.00" cy="182.00" r="1.35" fill="#1f4672"/>
<circle cx="123.75" cy="179.00" r="1.35" fill="#1f4672"/>
<circle cx="148.75" cy="167.00" r="1.35" fill="#1f4672"/>
<line x1="173.90" y1="139.80" x2="173.90" y2="223.00" stroke="#1e1e1e" stroke-width="1.4"/>
<line x1="170.50" y1="222.30" x2="173.90" y2="222.30" stroke="#1e1e1e" stroke-width="1.3"/>
<text x="167.30" y="225.20" font-size="8.2" font-family='"Liberation Sans", sans-serif' fill="#222222" stroke="#222222" stroke-width="0.1" text-anchor="end" textLength="4.6" lengthAdjust="spacingAndGlyphs">0</text>
<line x1="170.50" y1="202.83" x2="173.90" y2="202.83" stroke="#1e1e1e" stroke-width="1.3"/>
<text x="167.30" y="205.73" font-size="8.2" font-family='"Liberation Sans", sans-serif' fill="#222222" stroke="#222222" stroke-width="0.1" text-anchor="end" textLength="4.6" lengthAdjust="spacingAndGlyphs">2</text>
<line x1="170.50" y1="183.35" x2="173.90" y2="183.35" stroke="#1e1e1e" stroke-width="1.3"/>
<text x="167.30" y="186.25" font-size="8.2" font-family='"Liberation Sans", sans-serif' fill="#222222" stroke="#222222" stroke-width="0.1" text-anchor="end" textLength="4.6" lengthAdjust="spacingAndGlyphs">4</text>
<line x1="170.50" y1="163.88" x2="173.90" y2="163.88" stroke="#1e1e1e" stroke-width="1.3"/>
<text x="167.30" y="166.78" font-size="8.2" font-family='"Liberation Sans", sans-serif' fill="#222222" stroke="#222222" stroke-width="0.1" text-anchor="end" textLength="4.6" lengthAdjust="spacingAndGlyphs">6</text>
<line x1="170.50" y1="144.40" x2="173.90" y2="144.40" stroke="#1e1e1e" stroke-width="1.3"/>
<text x="167.30" y="147.30" font-size="8.2" font-family='"Liberation Sans", sans-serif' fill="#222222" stroke="#222222" stroke-width="0.1" text-anchor="end" textLength="4.6" lengthAdjust="spacingAndGlyphs">8</text>
<line x1="173.20" y1="222.30" x2="291.80" y2="222.30" stroke="#1e1e1e" stroke-width="1.4"/>
<line x1="175.60" y1="222.30" x2="175.60" y2="225.70" stroke="#1e1e1e" stroke-width="1.3"/>
<text x="175.60" y="235.20" font-size="8.2" font-family='"Liberation Sans", sans-serif' fill="#222222" stroke="#222222" stroke-width="0.1" text-anchor="middle" textLength="4.6" lengthAdjust="spacingAndGlyphs">0</text>
<line x1="192.20" y1="222.30" x2="192.20" y2="225.70" stroke="#1e1e1e" stroke-width="1.3"/>
<text x="192.20" y="235.20" font-size="8.2" font-family='"Liberation Sans", sans-serif' fill="#222222" stroke="#222222" stroke-width="0.1" text-anchor="middle" textLength="4.6" lengthAdjust="spacingAndGlyphs">5</text>
<line x1="208.80" y1="222.30" x2="208.80" y2="225.70" stroke="#1e1e1e" stroke-width="1.3"/>
<text x="208.80" y="235.20" font-size="8.2" font-family='"Liberation Sans", sans-serif' fill="#222222" stroke="#222222" stroke-width="0.1" text-anchor="middle" textLength="8.25" lengthAdjust="spacingAndGlyphs">10</text>
<line x1="225.40" y1="222.30" x2="225.40" y2="225.70" stroke="#1e1e1e" stroke-width="1.3"/>
<text x="225.40" y="235.20" font-size="8.2" font-family='"Liberation Sans", sans-serif' fill="#222222" stroke="#222222" stroke-width="0.1" text-anchor="middle" textLength="8.25" lengthAdjust="spacingAndGlyphs">15</text>
<line x1="242.00" y1="222.30" x2="242.00" y2="225.70" stroke="#1e1e1e" stroke-width="1.3"/>
<text x="242.00" y="235.20" font-size="8.2" font-family='"Liberation Sans", sans-serif' fill="#222222" stroke="#222222" stroke-width="0.1" text-anchor="middle" textLength="8.25" lengthAdjust="spacingAndGlyphs">20</text>
<line x1="258.60" y1="222.30" x2="258.60" y2="225.70" stroke="#1e1e1e" stroke-width="1.3"/>
<text x="258.60" y="235.20" font-size="8.2" font-family='"Liberation Sans", sans-serif' fill="#222222" stroke="#222222" stroke-width="0.1" text-anchor="middle" textLength="8.25" lengthAdjust="spacingAndGlyphs">25</text>
<line x1="275.20" y1="222.30" x2="275.20" y2="225.70" stroke="#1e1e1e" stroke-width="1.3"/>
<text x="275.20" y="235.20" font-size="8.2" font-family='"Liberation Sans", sans-serif' fill="#222222" stroke="#222222" stroke-width="0.1" text-anchor="middle" textLength="8.25" lengthAdjust="spacingAndGlyphs">30</text>
<text x="193.80" y="247.80" font-size="9.9" font-family='"Liberation Sans", sans-serif' fill="#222222" stroke="#222222" stroke-width="0.1" textLength="78.8" lengthAdjust="spacingAndGlyphs">Months post-transplant</text>
<text x="196.50" y="140.80" font-size="10.6" font-family='"Liberation Sans", sans-serif' fill="#222222" stroke="#222222" stroke-width="0.1" textLength="74" lengthAdjust="spacingAndGlyphs">ZL39 - Lymphoid</text>
<polyline points="182.50,222.00 190.00,221.25 195.00,218.75 201.25,217.50 208.00,215.50 215.00,217.50 221.25,216.25 228.00,213.25 238.00,209.25 248.75,217.00 255.00,215.50 268.00,213.00 288.00,210.00" fill="none" stroke="#b8173f" stroke-width="1.05" stroke-linejoin="round"/>
<circle cx="182.50" cy="222.00" r="1.35" fill="#b8173f"/>
<circle cx="190.00" cy="221.25" r="1.35" fill="#b8173f"/>
<circle cx="195.00" cy="218.75" r="1.35" fill="#b8173f"/>
<circle cx="201.25" cy="217.50" r="1.35" fill="#b8173f"/>
<circle cx="208.00" cy="215.50" r="1.35" fill="#b8173f"/>
<circle cx="215.00" cy="217.50" r="1.35" fill="#b8173f"/>
<circle cx="221.25" cy="216.25" r="1.35" fill="#b8173f"/>
<circle cx="228.00" cy="213.25" r="1.35" fill="#b8173f"/>
<circle cx="238.00" cy="209.25" r="1.35" fill="#b8173f"/>
<circle cx="248.75" cy="217.00" r="1.35" fill="#b8173f"/>
<circle cx="255.00" cy="215.50" r="1.35" fill="#b8173f"/>
<circle cx="268.00" cy="213.00" r="1.35" fill="#b8173f"/>
<circle cx="288.00" cy="210.00" r="1.35" fill="#b8173f"/>
<polyline points="182.50,222.00 195.00,216.25 201.25,214.50 208.00,215.50 215.00,214.00 221.25,213.50 228.00,213.00 238.00,210.50 248.75,211.25 255.00,205.00 268.00,209.25 288.00,201.00" fill="none" stroke="#f2a332" stroke-width="1.05" stroke-linejoin="round"/>
<circle cx="182.50" cy="222.00" r="1.35" fill="#f2a332"/>
<circle cx="195.00" cy="216.25" r="1.35" fill="#f2a332"/>
<circle cx="201.25" cy="214.50" r="1.35" fill="#f2a332"/>
<circle cx="208.00" cy="215.50" r="1.35" fill="#f2a332"/>
<circle cx="215.00" cy="214.00" r="1.35" fill="#f2a332"/>
<circle cx="221.25" cy="213.50" r="1.35" fill="#f2a332"/>
<circle cx="228.00" cy="213.00" r="1.35" fill="#f2a332"/>
<circle cx="238.00" cy="210.50" r="1.35" fill="#f2a332"/>
<circle cx="248.75" cy="211.25" r="1.35" fill="#f2a332"/>
<circle cx="255.00" cy="205.00" r="1.35" fill="#f2a332"/>
<circle cx="268.00" cy="209.25" r="1.35" fill="#f2a332"/>
<circle cx="288.00" cy="201.00" r="1.35" fill="#f2a332"/>
<polyline points="182.50,222.00 195.00,213.75 201.25,210.75 208.00,208.00 215.00,207.50 221.25,207.00 228.00,205.00 238.00,200.75 248.75,202.00 255.00,205.00 268.00,201.75 288.00,198.75" fill="none" stroke="#3fae52" stroke-width="1.05" stroke-linejoin="round"/>
<circle cx="182.50" cy="222.00" r="1.35" fill="#3fae52"/>
<circle cx="195.00" cy="213.75" r="1.35" fill="#3fae52"/>
<circle cx="201.25" cy="210.75" r="1.35" fill="#3fae52"/>
<circle cx="208.00" cy="208.00" r="1.35" fill="#3fae52"/>
<circle cx="215.00" cy="207.50" r="1.35" fill="#3fae52"/>
<circle cx="221.25" cy="207.00" r="1.35" fill="#3fae52"/>
<circle cx="228.00" cy="205.00" r="1.35" fill="#3fae52"/>
<circle cx="238.00" cy="200.75" r="1.35" fill="#3fae52"/>
<circle cx="248.75" cy="202.00" r="1.35" fill="#3fae52"/>
<circle cx="255.00" cy="205.00" r="1.35" fill="#3fae52"/>
<circle cx="268.00" cy="201.75" r="1.35" fill="#3fae52"/>
<circle cx="288.00" cy="198.75" r="1.35" fill="#3fae52"/>
<polyline points="182.50,221.25 195.00,214.50 201.25,210.00 208.00,207.50 215.00,208.25 221.25,204.50 228.00,201.25 238.00,205.00 248.75,202.50 255.00,198.00 268.00,191.25 288.00,170.00" fill="none" stroke="#4e1f7d" stroke-width="1.05" stroke-linejoin="round"/>
<circle cx="182.50" cy="221.25" r="1.35" fill="#4e1f7d"/>
<circle cx="195.00" cy="214.50" r="1.35" fill="#4e1f7d"/>
<circle cx="201.25" cy="210.00" r="1.35" fill="#4e1f7d"/>
<circle cx="208.00" cy="207.50" r="1.35" fill="#4e1f7d"/>
<circle cx="215.00" cy="208.25" r="1.35" fill="#4e1f7d"/>
<circle cx="221.25" cy="204.50" r="1.35" fill="#4e1f7d"/>
<circle cx="228.00" cy="201.25" r="1.35" fill="#4e1f7d"/>
<circle cx="238.00" cy="205.00" r="1.35" fill="#4e1f7d"/>
<circle cx="248.75" cy="202.50" r="1.35" fill="#4e1f7d"/>
<circle cx="255.00" cy="198.00" r="1.35" fill="#4e1f7d"/>
<circle cx="268.00" cy="191.25" r="1.35" fill="#4e1f7d"/>
<circle cx="288.00" cy="170.00" r="1.35" fill="#4e1f7d"/>
<polyline points="178.75,218.00 201.25,210.00 208.00,201.25 215.00,201.00 221.25,200.75 228.00,194.25 238.00,191.00 248.75,186.75 255.00,185.00 268.00,174.50 288.00,148.50" fill="none" stroke="#1f4672" stroke-width="1.05" stroke-linejoin="round"/>
<circle cx="178.75" cy="218.00" r="1.35" fill="#1f4672"/>
<circle cx="201.25" cy="210.00" r="1.35" fill="#1f4672"/>
<circle cx="208.00" cy="201.25" r="1.35" fill="#1f4672"/>
<circle cx="215.00" cy="201.00" r="1.35" fill="#1f4672"/>
<circle cx="221.25" cy="200.75" r="1.35" fill="#1f4672"/>
<circle cx="228.00" cy="194.25" r="1.35" fill="#1f4672"/>
<circle cx="238.00" cy="191.00" r="1.35" fill="#1f4672"/>
<circle cx="248.75" cy="186.75" r="1.35" fill="#1f4672"/>
<circle cx="255.00" cy="185.00" r="1.35" fill="#1f4672"/>
<circle cx="268.00" cy="174.50" r="1.35" fill="#1f4672"/>
<circle cx="288.00" cy="148.50" r="1.35" fill="#1f4672"/>
<line x1="318.50" y1="139.40" x2="318.50" y2="223.00" stroke="#1e1e1e" stroke-width="1.4"/>
<line x1="315.10" y1="222.30" x2="318.50" y2="222.30" stroke="#1e1e1e" stroke-width="1.3"/>
<text x="311.90" y="225.20" font-size="8.2" font-family='"Liberation Sans", sans-serif' fill="#222222" stroke="#222222" stroke-width="0.1" text-anchor="end" textLength="4.6" lengthAdjust="spacingAndGlyphs">0</text>
<line x1="315.10" y1="202.60" x2="318.50" y2="202.60" stroke="#1e1e1e" stroke-width="1.3"/>
<text x="311.90" y="205.50" font-size="8.2" font-family='"Liberation Sans", sans-serif' fill="#222222" stroke="#222222" stroke-width="0.1" text-anchor="end" textLength="8.25" lengthAdjust="spacingAndGlyphs">10</text>
<line x1="315.10" y1="182.90" x2="318.50" y2="182.90" stroke="#1e1e1e" stroke-width="1.3"/>
<text x="311.90" y="185.80" font-size="8.2" font-family='"Liberation Sans", sans-serif' fill="#222222" stroke="#222222" stroke-width="0.1" text-anchor="end" textLength="8.25" lengthAdjust="spacingAndGlyphs">20</text>
<line x1="315.10" y1="163.20" x2="318.50" y2="163.20" stroke="#1e1e1e" stroke-width="1.3"/>
<text x="311.90" y="166.10" font-size="8.2" font-family='"Liberation Sans", sans-serif' fill="#222222" stroke="#222222" stroke-width="0.1" text-anchor="end" textLength="8.25" lengthAdjust="spacingAndGlyphs">30</text>
<line x1="315.10" y1="143.50" x2="318.50" y2="143.50" stroke="#1e1e1e" stroke-width="1.3"/>
<text x="311.90" y="146.40" font-size="8.2" font-family='"Liberation Sans", sans-serif' fill="#222222" stroke="#222222" stroke-width="0.1" text-anchor="end" textLength="8.25" lengthAdjust="spacingAndGlyphs">40</text>
<line x1="317.80" y1="222.30" x2="437.00" y2="222.30" stroke="#1e1e1e" stroke-width="1.4"/>
<line x1="323.10" y1="222.30" x2="323.10" y2="225.70" stroke="#1e1e1e" stroke-width="1.3"/>
<text x="323.10" y="235.20" font-size="8.2" font-family='"Liberation Sans", sans-serif' fill="#222222" stroke="#222222" stroke-width="0.1" text-anchor="middle" textLength="4.6" lengthAdjust="spacingAndGlyphs">0</text>
<line x1="339.80" y1="222.30" x2="339.80" y2="225.70" stroke="#1e1e1e" stroke-width="1.3"/>
<text x="339.80" y="235.20" font-size="8.2" font-family='"Liberation Sans", sans-serif' fill="#222222" stroke="#222222" stroke-width="0.1" text-anchor="middle" textLength="4.6" lengthAdjust="spacingAndGlyphs">2</text>
<line x1="356.50" y1="222.30" x2="356.50" y2="225.70" stroke="#1e1e1e" stroke-width="1.3"/>
<text x="356.50" y="235.20" font-size="8.2" font-family='"Liberation Sans", sans-serif' fill="#222222" stroke="#222222" stroke-width="0.1" text-anchor="middle" textLength="4.6" lengthAdjust="spacingAndGlyphs">4</text>
<line x1="373.20" y1="222.30" x2="373.20" y2="225.70" stroke="#1e1e1e" stroke-width="1.3"/>
<text x="373.20" y="235.20" font-size="8.2" font-family='"Liberation Sans", sans-serif' fill="#222222" stroke="#222222" stroke-width="0.1" text-anchor="middle" textLength="4.6" lengthAdjust="spacingAndGlyphs">6</text>
<line x1="389.90" y1="222.30" x2="389.90" y2="225.70" stroke="#1e1e1e" stroke-width="1.3"/>
<text x="389.90" y="235.20" font-size="8.2" font-family='"Liberation Sans", sans-serif' fill="#222222" stroke="#222222" stroke-width="0.1" text-anchor="middle" textLength="4.6" lengthAdjust="spacingAndGlyphs">8</text>
<line x1="406.60" y1="222.30" x2="406.60" y2="225.70" stroke="#1e1e1e" stroke-width="1.3"/>
<text x="406.60" y="235.20" font-size="8.2" font-family='"Liberation Sans", sans-serif' fill="#222222" stroke="#222222" stroke-width="0.1" text-anchor="middle" textLength="8.25" lengthAdjust="spacingAndGlyphs">10</text>
<line x1="423.30" y1="222.30" x2="423.30" y2="225.70" stroke="#1e1e1e" stroke-width="1.3"/>
<text x="423.30" y="235.20" font-size="8.2" font-family='"Liberation Sans", sans-serif' fill="#222222" stroke="#222222" stroke-width="0.1" text-anchor="middle" textLength="8.25" lengthAdjust="spacingAndGlyphs">12</text>
<text x="339.00" y="247.80" font-size="9.9" font-family='"Liberation Sans", sans-serif' fill="#222222" stroke="#222222" stroke-width="0.1" textLength="78.8" lengthAdjust="spacingAndGlyphs">Months post-transplant</text>
<text x="340.50" y="140.80" font-size="10.6" font-family='"Liberation Sans", sans-serif' fill="#222222" stroke="#222222" stroke-width="0.1" textLength="75.5" lengthAdjust="spacingAndGlyphs">ZH63 - Lymphoid</text>
<polyline points="340.00,218.00 357.00,220.50 373.75,217.50 382.00,215.75 398.75,214.50 415.50,213.00 424.25,210.00 432.50,209.50" fill="none" stroke="#f2a332" stroke-width="1.05" stroke-linejoin="round"/>
<circle cx="340.00" cy="218.00" r="1.35" fill="#f2a332"/>
<circle cx="357.00" cy="220.50" r="1.35" fill="#f2a332"/>
<circle cx="373.75" cy="217.50" r="1.35" fill="#f2a332"/>
<circle cx="382.00" cy="215.75" r="1.35" fill="#f2a332"/>
<circle cx="398.75" cy="214.50" r="1.35" fill="#f2a332"/>
<circle cx="415.50" cy="213.00" r="1.35" fill="#f2a332"/>
<circle cx="424.25" cy="210.00" r="1.35" fill="#f2a332"/>
<circle cx="432.50" cy="209.50" r="1.35" fill="#f2a332"/>
<polyline points="340.00,218.75 357.00,220.50 373.75,217.50 382.00,210.50 398.75,196.25 415.50,187.50 432.50,172.50" fill="none" stroke="#3fae52" stroke-width="1.05" stroke-linejoin="round"/>
<circle cx="340.00" cy="218.75" r="1.35" fill="#3fae52"/>
<circle cx="357.00" cy="220.50" r="1.35" fill="#3fae52"/>
<circle cx="373.75" cy="217.50" r="1.35" fill="#3fae52"/>
<circle cx="382.00" cy="210.50" r="1.35" fill="#3fae52"/>
<circle cx="398.75" cy="196.25" r="1.35" fill="#3fae52"/>
<circle cx="415.50" cy="187.50" r="1.35" fill="#3fae52"/>
<circle cx="432.50" cy="172.50" r="1.35" fill="#3fae52"/>
<polyline points="340.00,218.75 357.00,218.75 373.75,212.50 382.00,208.00 398.75,200.50 415.50,195.00 432.50,181.25" fill="none" stroke="#1f4672" stroke-width="1.05" stroke-linejoin="round"/>
<circle cx="340.00" cy="218.75" r="1.35" fill="#1f4672"/>
<circle cx="357.00" cy="218.75" r="1.35" fill="#1f4672"/>
<circle cx="373.75" cy="212.50" r="1.35" fill="#1f4672"/>
<circle cx="382.00" cy="208.00" r="1.35" fill="#1f4672"/>
<circle cx="398.75" cy="200.50" r="1.35" fill="#1f4672"/>
<circle cx="415.50" cy="195.00" r="1.35" fill="#1f4672"/>
<circle cx="432.50" cy="181.25" r="1.35" fill="#1f4672"/>
<polyline points="340.00,218.75 357.00,221.25 373.75,216.25 382.00,199.25 398.75,188.00 415.50,196.25 432.50,190.50" fill="none" stroke="#b8173f" stroke-width="1.05" stroke-linejoin="round"/>
<circle cx="340.00" cy="218.75" r="1.35" fill="#b8173f"/>
<circle cx="357.00" cy="221.25" r="1.35" fill="#b8173f"/>
<circle cx="373.75" cy="216.25" r="1.35" fill="#b8173f"/>
<circle cx="382.00" cy="199.25" r="1.35" fill="#b8173f"/>
<circle cx="398.75" cy="188.00" r="1.35" fill="#b8173f"/>
<circle cx="415.50" cy="196.25" r="1.35" fill="#b8173f"/>
<circle cx="432.50" cy="190.50" r="1.35" fill="#b8173f"/>
<polyline points="340.00,218.25 357.00,217.50 373.75,208.75 382.00,188.25 398.75,185.75 415.50,168.25 424.25,154.50" fill="none" stroke="#4e1f7d" stroke-width="1.05" stroke-linejoin="round"/>
<circle cx="340.00" cy="218.25" r="1.35" fill="#4e1f7d"/>
<circle cx="357.00" cy="217.50" r="1.35" fill="#4e1f7d"/>
<circle cx="373.75" cy="208.75" r="1.35" fill="#4e1f7d"/>
<circle cx="382.00" cy="188.25" r="1.35" fill="#4e1f7d"/>
<circle cx="398.75" cy="185.75" r="1.35" fill="#4e1f7d"/>
<circle cx="415.50" cy="168.25" r="1.35" fill="#4e1f7d"/>
<circle cx="424.25" cy="154.50" r="1.35" fill="#4e1f7d"/>
<line x1="445.70" y1="146.50" x2="454.20" y2="146.50" stroke="#3fae52" stroke-width="1.2"/>
<circle cx="449.95" cy="146.5" r="1.2" fill="#3fae52"/>
<text x="457.80" y="149.50" font-size="8.5" font-family='"Liberation Sans", sans-serif' fill="#222222" stroke="#222222" stroke-width="0.05" textLength="46.5" lengthAdjust="spacingAndGlyphs">Helper T cells</text>
<line x1="445.70" y1="157.20" x2="454.20" y2="157.20" stroke="#b8173f" stroke-width="1.2"/>
<circle cx="449.95" cy="157.2" r="1.2" fill="#b8173f"/>
<text x="457.80" y="160.20" font-size="8.5" font-family='"Liberation Sans", sans-serif' fill="#222222" stroke="#222222" stroke-width="0.05" textLength="56" lengthAdjust="spacingAndGlyphs">Cytotoxic T cells</text>
<line x1="445.70" y1="167.90" x2="454.20" y2="167.90" stroke="#1f4672" stroke-width="1.2"/>
<circle cx="449.95" cy="167.9" r="1.2" fill="#1f4672"/>
<text x="457.80" y="170.90" font-size="8.5" font-family='"Liberation Sans", sans-serif' fill="#222222" stroke="#222222" stroke-width="0.05" textLength="25.5" lengthAdjust="spacingAndGlyphs">B cells</text>
<line x1="445.70" y1="178.60" x2="454.20" y2="178.60" stroke="#f2a332" stroke-width="1.2"/>
<circle cx="449.95" cy="178.6" r="1.2" fill="#f2a332"/>
<text x="457.80" y="181.60" font-size="8.5" font-family='"Liberation Sans", sans-serif' fill="#222222" stroke="#222222" stroke-width="0.05" textLength="53" lengthAdjust="spacingAndGlyphs">Mature NK cells</text>
<line x1="445.70" y1="189.30" x2="454.20" y2="189.30" stroke="#4e1f7d" stroke-width="1.2"/>
<circle cx="449.95" cy="189.3" r="1.2" fill="#4e1f7d"/>
<text x="457.80" y="192.30" font-size="8.5" font-family='"Liberation Sans", sans-serif' fill="#222222" stroke="#222222" stroke-width="0.05" textLength="61.5" lengthAdjust="spacingAndGlyphs">Immature NK cells</text>
<text transform="translate(8.10,180.40) rotate(-90)" font-size="9" font-family='"Liberation Sans", sans-serif' fill="#222222" text-anchor="middle" textLength="74.8" lengthAdjust="spacingAndGlyphs">TET2 allele fraction (%)</text>
<text x="0.90" y="266.60" font-size="12" font-family='"Liberation Sans", sans-serif' fill="#000" stroke="#000" stroke-width="0.35" font-weight="bold" textLength="7.3" lengthAdjust="spacingAndGlyphs">B</text>
<path d="M65.23,365.80 L65.23,364.75 L71.69,353.77 L78.69,344.08 L81.92,348.17 L90.54,338.15 L93.77,339.23 L95.38,340.85 L97.54,336.54 L99.15,338.69 L102.38,332.77 L114.23,321.68 L114.23,365.80 Z" fill="#f8b829"/>
<path d="M65.23,365.80 L65.23,364.75 L72.77,358.08 L78.15,352.69 L81.38,353.23 L87.85,349.46 L92.15,347.31 L95.38,347.85 L97.54,346.77 L100.77,348.38 L114.23,340.85 L114.23,365.80 Z" fill="#e3609f"/>
<path d="M65.23,365.80 L65.23,364.75 L72.77,360.23 L78.15,357.54 L87.85,354.84 L91.08,354.31 L94.31,354.84 L97.54,355.38 L114.23,355.06 L114.23,365.80 Z" fill="#c8321e"/>
<path d="M65.23,365.80 L65.23,364.86 L72.77,362.38 L78.15,360.23 L87.85,359.69 L94.31,359.37 L114.23,359.15 L114.23,365.80 Z" fill="#f47c6e"/>
<path d="M65.23,365.80 L65.23,365.08 L70.62,364.00 L78.15,364.00 L114.23,362.92 L114.23,365.80 Z" fill="#f8d6f0"/>
<path d="M65.23,365.80 L65.23,365.61 L70.62,364.86 L114.23,364.75 L114.23,365.80 Z" fill="#9a86e0"/>
<path d="M131.69,365.80 L131.69,363.00 L136.00,360.84 L139.23,346.31 L145.15,346.31 L151.08,352.77 L152.69,345.23 L154.85,319.92 L156.78,332.31 L158.29,329.08 L160.23,335.54 L180.15,307.54 L180.15,365.80 Z" fill="#f8b829"/>
<path d="M131.69,365.80 L131.69,364.61 L136.00,362.46 L139.23,353.84 L145.15,354.38 L151.08,356.54 L152.69,349.54 L154.85,338.77 L156.78,345.23 L158.29,342.00 L160.23,346.31 L180.15,332.31 L180.15,365.80 Z" fill="#e3609f"/>
<path d="M131.69,365.80 L131.69,364.61 L136.00,362.46 L139.23,356.00 L145.15,357.08 L151.08,359.23 L152.69,357.08 L154.85,350.61 L156.78,353.84 L158.61,352.77 L160.23,356.00 L180.15,352.23 L180.15,365.80 Z" fill="#c8321e"/>
<path d="M131.69,365.80 L131.69,365.15 L136.00,363.54 L139.23,359.77 L145.15,360.31 L151.08,361.38 L152.69,358.69 L154.85,356.00 L160.23,358.69 L180.15,358.15 L180.15,365.80 Z" fill="#f47c6e"/>
<path d="M131.69,365.80 L131.69,365.47 L139.23,363.54 L151.08,363.75 L152.69,362.46 L180.15,362.46 L180.15,365.80 Z" fill="#f8d6f0"/>
<path d="M131.69,365.80 L131.69,365.69 L139.23,364.83 L180.15,364.72 L180.15,365.80 Z" fill="#9a86e0"/>
<path d="M200.31,365.75 L200.31,362.31 L207.85,356.38 L213.23,356.71 L219.15,351.32 L223.46,353.15 L233.69,345.61 L238.54,347.77 L248.77,346.15 L248.77,365.75 Z" fill="#f8b829"/>
<path d="M200.31,365.75 L200.31,363.38 L207.85,360.58 L213.23,360.58 L219.15,358.54 L223.46,359.08 L233.69,355.63 L238.54,356.92 L248.77,356.38 L248.77,365.75 Z" fill="#e3609f"/>
<path d="M200.31,365.75 L200.31,364.25 L207.85,362.31 L219.15,361.23 L233.69,359.72 L238.54,360.80 L248.77,360.37 L248.77,365.75 Z" fill="#f8d6f0"/>
<path d="M200.31,365.75 L200.31,364.89 L207.85,363.60 L219.15,362.95 L233.69,362.31 L238.54,362.74 L248.77,362.52 L248.77,365.75 Z" fill="#d890c8"/>
<path d="M200.31,365.75 L200.31,365.65 L248.77,365.43 L248.77,365.75 Z" fill="#9a7a9a"/>
<polyline points="200.31,362.31 207.85,356.38 213.23,356.71 219.15,351.32 223.46,353.15 233.69,345.61 238.54,347.77 248.77,346.15" fill="none" stroke="#8e8a70" stroke-width="0.65"/>
<path d="M267.31,365.80 L267.31,365.31 L274.85,359.92 L279.15,361.00 L286.69,356.69 L295.31,355.08 L300.69,350.77 L303.92,354.00 L315.77,354.00 L315.77,365.80 Z" fill="#f8b829"/>
<path d="M267.31,365.80 L267.31,365.63 L274.85,364.55 L282.38,363.15 L295.31,362.61 L300.69,359.92 L303.38,362.08 L315.77,362.08 L315.77,365.80 Z" fill="#e3609f"/>
<path d="M267.31,365.80 L267.31,365.74 L282.38,364.98 L295.31,364.55 L300.69,363.15 L303.38,364.23 L315.77,364.23 L315.77,365.80 Z" fill="#f8d6f0"/>
<path d="M274.85,365.80 L274.85,365.41 L315.77,365.20 L315.77,365.80 Z" fill="#9a86e0"/>
<path d="M334.85,365.80 L334.85,364.23 L340.77,361.54 L346.15,357.77 L351.54,350.23 L355.85,345.92 L359.08,339.46 L362.31,338.38 L366.61,334.08 L369.84,326.00 L373.08,322.77 L383.84,312.00 L383.84,365.80 Z" fill="#f8b829"/>
<path d="M334.85,365.80 L334.85,364.44 L340.77,363.15 L346.15,360.46 L351.54,356.69 L355.85,352.38 L359.08,349.15 L362.31,347.00 L366.61,344.84 L369.84,342.15 L376.31,339.46 L383.84,335.15 L383.84,365.80 Z" fill="#e3609f"/>
<path d="M334.85,365.80 L334.85,364.55 L340.77,363.69 L346.15,362.08 L351.54,359.92 L356.92,357.23 L362.31,354.54 L367.69,352.38 L373.08,351.31 L383.84,350.77 L383.84,365.80 Z" fill="#c8321e"/>
<path d="M334.85,365.80 L334.85,364.77 L346.15,363.15 L356.92,359.92 L367.69,357.77 L383.84,356.15 L383.84,365.80 Z" fill="#f47c6e"/>
<path d="M334.85,365.80 L334.85,364.98 L346.15,364.23 L356.92,362.08 L367.69,361.00 L383.84,359.92 L383.84,365.80 Z" fill="#f8d6f0"/>
<path d="M334.85,365.80 L334.85,365.52 L340.77,364.98 L362.31,364.88 L383.84,364.66 L383.84,365.80 Z" fill="#9a86e0"/>
<path d="M400.77,365.78 L400.77,364.17 L416.38,364.17 L449.77,364.17 L449.77,365.78 Z" fill="#f6cf70"/>
<path d="M416.38,365.78 L416.38,364.38 L418.54,362.77 L428.23,361.15 L429.85,360.40 L432.00,362.98 L449.77,363.09 L449.77,365.78 Z" fill="#f8b829"/>
<path d="M417.46,365.78 L417.46,365.14 L429.31,364.49 L431.46,365.14 L449.77,365.03 L449.77,365.78 Z" fill="#c8321e"/>
<path d="M400.77,365.78 L400.77,365.68 L417.46,365.57 L449.77,365.46 L449.77,365.78 Z" fill="#f47c6e"/>
<path d="M468.31,365.77 L468.31,364.69 L476.92,359.84 L486.61,353.92 L488.77,347.46 L493.08,339.38 L496.31,342.61 L499.54,336.69 L501.69,338.31 L507.08,332.38 L517.31,329.15 L517.31,365.77 Z" fill="#f8b829"/>
<path d="M468.31,365.77 L468.31,365.01 L486.61,356.61 L489.85,351.77 L493.08,348.54 L496.31,350.15 L499.54,346.38 L504.92,345.31 L517.31,345.31 L517.31,365.77 Z" fill="#e3609f"/>
<path d="M468.31,365.77 L468.31,365.23 L480.15,361.46 L487.69,356.61 L494.15,354.46 L501.69,354.25 L517.31,355.54 L517.31,365.77 Z" fill="#c8321e"/>
<path d="M468.31,365.77 L468.31,365.44 L487.69,359.84 L496.31,358.77 L507.08,358.77 L517.31,359.31 L517.31,365.77 Z" fill="#f47c6e"/>
<path d="M468.31,365.77 L468.31,365.55 L496.31,363.61 L517.31,363.61 L517.31,365.77 Z" fill="#f8d6f0"/>
<path d="M468.31,365.77 L468.31,365.66 L496.31,364.80 L517.31,364.69 L517.31,365.77 Z" fill="#9a86e0"/>
<path d="M64.69,471.20 L64.69,469.15 L72.77,461.61 L80.31,451.92 L93.23,452.46 L97.54,449.23 L105.08,442.77 L114.23,430.38 L114.23,471.20 Z" fill="#f8b829"/>
<path d="M64.69,471.20 L64.69,469.69 L72.77,464.84 L80.31,458.38 L88.92,462.69 L96.46,461.61 L105.08,460.00 L114.23,458.38 L114.23,471.20 Z" fill="#f6ee0c"/>
<path d="M64.69,471.20 L64.69,470.23 L72.77,468.08 L80.31,465.92 L88.92,466.46 L99.69,467.00 L114.23,465.71 L114.23,471.20 Z" fill="#d6b58e"/>
<path d="M64.69,471.20 L64.69,470.44 L80.31,467.54 L99.69,468.08 L114.23,468.08 L114.23,471.20 Z" fill="#c9cbcd"/>
<path d="M64.69,471.20 L64.69,470.77 L72.77,469.15 L80.31,468.08 L88.92,469.15 L99.69,470.23 L114.23,469.15 L114.23,471.20 Z" fill="#3d5f80"/>
<path d="M64.69,471.20 L64.69,471.09 L114.23,470.66 L114.23,471.20 Z" fill="#c9cbcd"/>
<path d="M131.69,471.20 L131.69,470.61 L138.69,465.23 L143.00,458.77 L147.31,450.15 L150.54,451.23 L153.77,449.08 L157.00,451.23 L161.31,444.23 L164.54,442.08 L181.23,424.31 L181.23,471.20 Z" fill="#f8b829"/>
<path d="M131.69,471.20 L131.69,470.83 L138.69,468.46 L145.15,462.00 L148.38,459.84 L153.77,461.46 L158.08,463.08 L164.54,461.46 L181.23,460.92 L181.23,471.20 Z" fill="#f6ee0c"/>
<path d="M131.69,471.20 L131.69,471.04 L145.15,467.38 L155.92,467.92 L181.23,467.38 L181.23,471.20 Z" fill="#d6b58e"/>
<path d="M131.69,471.20 L131.69,471.15 L145.15,468.46 L181.23,468.46 L181.23,471.20 Z" fill="#c9cbcd"/>
<path d="M131.69,471.20 L131.69,471.15 L145.15,470.08 L148.38,469.54 L153.77,470.08 L181.23,470.08 L181.23,471.20 Z" fill="#3d5f80"/>
<path d="M199.23,471.20 L199.23,471.23 L207.85,459.38 L213.23,456.69 L217.54,455.61 L224.54,450.77 L231.54,454.54 L239.08,451.31 L248.23,448.62 L248.23,471.20 Z" fill="#f8b829"/>
<path d="M199.23,471.20 L199.23,471.23 L207.85,461.54 L215.38,458.31 L224.54,457.23 L231.54,458.85 L248.23,457.77 L248.23,471.20 Z" fill="#f6ee0c"/>
<path d="M199.23,471.20 L199.23,471.23 L207.85,466.38 L217.54,464.77 L228.31,465.31 L248.23,464.77 L248.23,471.20 Z" fill="#c9cbcd"/>
<path d="M199.23,471.20 L199.23,471.45 L205.69,468.86 L213.23,467.46 L217.54,468.21 L222.92,467.46 L228.31,468.54 L248.23,467.78 L248.23,471.20 Z" fill="#9a7ae8"/>
<path d="M199.23,471.20 L199.23,471.45 L205.69,469.72 L248.23,469.08 L248.23,471.20 Z" fill="#3d5f80"/>
<path d="M269.46,471.17 L269.46,470.85 L278.08,464.92 L282.38,466.00 L286.69,463.85 L291.54,459.00 L295.85,466.00 L306.08,462.77 L315.23,460.08 L315.23,471.17 Z" fill="#f8b829"/>
<path d="M269.46,471.17 L269.46,470.85 L278.08,467.08 L286.69,464.92 L291.54,460.08 L295.85,467.08 L306.08,467.08 L315.23,466.00 L315.23,471.17 Z" fill="#f6ee0c"/>
<path d="M269.46,471.17 L269.46,471.06 L278.08,470.31 L291.54,469.55 L315.23,470.31 L315.23,471.17 Z" fill="#3d5f80"/>
<path d="M332.80,471.15 L332.80,468.35 L342.32,463.31 L346.80,452.67 L352.40,453.23 L356.88,445.95 L361.35,444.27 L365.83,438.11 L372.55,430.83 L377.03,421.88 L382.63,402.28 L382.63,471.15 Z" fill="#f8b829"/>
<path d="M332.80,471.15 L332.80,468.91 L342.32,464.43 L346.80,458.83 L352.40,459.39 L361.35,456.03 L365.83,455.47 L374.79,454.35 L382.63,452.11 L382.63,471.15 Z" fill="#d6b58e"/>
<path d="M332.80,471.15 L332.80,469.47 L342.32,465.55 L346.80,461.07 L358.00,458.83 L364.71,457.15 L374.79,456.03 L382.63,455.47 L382.63,471.15 Z" fill="#f6ee0c"/>
<path d="M332.80,471.15 L332.80,471.15 L346.80,464.43 L352.40,465.55 L358.00,464.43 L364.71,463.31 L368.07,465.55 L374.79,464.43 L382.63,462.75 L382.63,471.15 Z" fill="#3d5f80"/>
<path d="M332.80,471.15 L332.80,471.48 L346.80,467.23 L382.63,467.79 L382.63,471.15 Z" fill="#d5e3ec"/>
<path d="M400.23,471.17 L400.23,470.85 L409.92,464.92 L414.23,466.54 L418.54,463.31 L427.15,461.69 L431.46,461.69 L435.23,455.77 L440.08,460.08 L449.77,454.15 L449.77,471.17 Z" fill="#f8b829"/>
<path d="M400.23,471.17 L400.23,470.85 L409.92,466.54 L418.54,466.00 L431.46,465.46 L435.23,459.00 L440.08,464.38 L449.77,463.85 L449.77,471.17 Z" fill="#f6ee0c"/>
<path d="M400.23,471.17 L400.23,471.06 L409.92,468.05 L418.54,467.08 L431.46,467.08 L449.77,467.08 L449.77,471.17 Z" fill="#faf5b8"/>
<path d="M431.68,471.17 L431.68,470.41 L433.61,464.38 L435.34,461.15 L437.38,463.85 L439.86,469.23 L440.61,470.41 L440.61,471.17 Z" fill="#ffffff"/>
<path d="M400.23,471.17 L400.23,471.17 L407.77,470.31 L429.31,469.77 L449.77,470.31 L449.77,471.17 Z" fill="#3d5f80"/>
<path d="M467.77,471.21 L467.77,460.23 L474.77,458.08 L482.31,452.15 L487.69,455.38 L494.15,453.77 L499.54,448.38 L506.00,443.54 L511.38,434.38 L517.31,421.46 L517.31,471.21 Z" fill="#f8b829"/>
<path d="M467.77,471.21 L467.77,462.92 L474.77,462.38 L482.31,461.31 L490.92,462.38 L501.69,461.31 L510.31,459.15 L517.31,457.00 L517.31,471.21 Z" fill="#f6ee0c"/>
<path d="M467.77,471.21 L467.77,466.69 L496.31,467.23 L517.31,465.61 L517.31,471.21 Z" fill="#d6b58e"/>
<path d="M467.77,471.21 L467.77,467.23 L474.77,467.98 L485.54,468.84 L496.31,468.84 L517.31,469.38 L517.31,471.21 Z" fill="#3d5f80"/>
<path d="M467.77,471.21 L467.77,468.84 L517.31,470.78 L517.31,471.21 Z" fill="#c9cbcd"/>
<path d="M65.23,576.30 L65.23,573.54 L74.92,571.92 L85.69,567.08 L90.00,555.23 L92.15,553.61 L99.69,550.38 L108.31,538.00 L112.61,529.38 L115.31,515.92 L115.31,576.30 Z" fill="#f6ee0c"/>
<path d="M65.23,576.30 L65.23,574.61 L85.69,570.31 L90.00,564.92 L99.69,561.69 L108.31,556.31 L115.31,540.69 L115.31,576.30 Z" fill="#9a7ae8"/>
<path d="M65.23,576.30 L65.23,575.15 L85.69,571.38 L90.00,568.15 L99.69,566.00 L108.31,561.69 L115.31,553.08 L115.31,576.30 Z" fill="#f8b829"/>
<path d="M65.23,576.30 L65.23,575.69 L85.69,573.00 L90.00,571.38 L99.69,570.31 L108.31,568.15 L115.31,564.38 L115.31,576.30 Z" fill="#22b5b5"/>
<path d="M65.23,576.30 L65.23,575.91 L85.69,574.07 L99.69,573.00 L115.31,571.38 L115.31,576.30 Z" fill="#ecbfa0"/>
<path d="M65.23,576.30 L65.23,576.01 L85.69,574.61 L99.69,574.40 L115.31,573.54 L115.31,576.30 Z" fill="#f8d6f0"/>
<path d="M65.23,576.30 L65.23,576.23 L115.31,575.91 L115.31,576.30 Z" fill="#d6b58e"/>
<path d="M131.69,576.30 L131.69,574.07 L141.92,571.38 L152.69,567.08 L156.46,531.54 L161.31,533.15 L166.69,535.31 L181.77,515.92 L181.77,576.30 Z" fill="#f6ee0c"/>
<path d="M131.69,576.30 L131.69,575.15 L152.69,573.00 L156.46,549.31 L166.69,550.38 L181.77,541.23 L181.77,576.30 Z" fill="#9a7ae8"/>
<path d="M131.69,576.30 L131.69,575.47 L152.69,573.54 L156.46,557.38 L166.69,559.54 L181.77,554.15 L181.77,576.30 Z" fill="#f8b829"/>
<path d="M131.69,576.30 L131.69,575.91 L152.69,574.61 L156.46,568.15 L166.69,568.69 L181.77,566.00 L181.77,576.30 Z" fill="#22b5b5"/>
<path d="M131.69,576.30 L131.69,576.01 L152.69,575.15 L156.46,570.84 L166.69,571.38 L181.77,570.31 L181.77,576.30 Z" fill="#ecbfa0"/>
<path d="M131.69,576.30 L131.69,576.12 L152.69,575.69 L156.46,573.54 L181.77,573.00 L181.77,576.30 Z" fill="#f8d6f0"/>
<path d="M131.69,576.30 L131.69,576.23 L156.46,575.69 L181.77,575.69 L181.77,576.30 Z" fill="#d6b58e"/>
<path d="M199.23,576.30 L199.23,576.00 L207.85,574.38 L215.38,573.31 L225.08,560.92 L231.54,553.38 L240.15,543.69 L248.77,530.23 L248.77,576.30 Z" fill="#f6ee0c"/>
<path d="M199.23,576.30 L199.23,576.11 L215.38,575.46 L225.08,570.61 L233.69,565.23 L241.23,559.84 L248.77,550.69 L248.77,576.30 Z" fill="#d6b58e"/>
<path d="M199.23,576.30 L199.23,576.11 L215.38,575.78 L225.08,572.77 L233.69,569.54 L241.23,566.31 L248.77,560.38 L248.77,576.30 Z" fill="#f8b829"/>
<path d="M199.23,576.30 L199.23,576.21 L217.54,576.00 L228.31,574.38 L239.08,571.69 L248.77,566.31 L248.77,576.30 Z" fill="#9a7ae8"/>
<path d="M199.23,576.30 L199.23,576.21 L222.92,575.78 L239.08,573.84 L248.77,571.69 L248.77,576.30 Z" fill="#a8d8ee"/>
<path d="M199.23,576.30 L199.23,576.21 L222.92,576.00 L239.08,574.92 L248.77,572.77 L248.77,576.30 Z" fill="#22b5b5"/>
<polyline points="199.23,576.00 207.85,574.38 215.38,573.31 225.08,560.92 231.54,553.38 240.15,543.69 248.77,530.23" fill="none" stroke="#5e5a30" stroke-width="0.8"/>
<path d="M267.85,576.31 L267.85,576.31 L275.92,575.77 L282.38,573.08 L287.77,556.38 L296.38,545.08 L306.08,552.61 L315.77,548.31 L315.77,576.31 Z" fill="#f6ee0c"/>
<path d="M267.85,576.31 L267.85,576.31 L284.54,575.77 L287.77,563.38 L296.38,559.08 L306.08,561.77 L315.77,561.23 L315.77,576.31 Z" fill="#f8b829"/>
<path d="M267.85,576.31 L267.85,576.31 L284.54,576.09 L287.77,567.15 L296.38,565.54 L306.08,567.15 L315.77,566.08 L315.77,576.31 Z" fill="#d6b58e"/>
<path d="M267.85,576.31 L267.85,576.31 L284.54,576.31 L287.77,570.92 L296.38,569.31 L306.08,570.38 L315.77,569.84 L315.77,576.31 Z" fill="#9a7ae8"/>
<path d="M284.54,576.31 L284.54,576.31 L287.77,574.15 L296.38,573.08 L315.77,573.61 L315.77,576.31 Z" fill="#f4eaf4"/>
<path d="M284.54,576.31 L284.54,576.31 L287.77,575.44 L315.77,575.23 L315.77,576.31 Z" fill="#3d5f80"/>
<polyline points="267.85,576.31 275.92,575.77 282.38,573.08 287.77,556.38 296.38,545.08 306.08,552.61 315.77,548.31" fill="none" stroke="#8e8a70" stroke-width="0.65"/>
<path d="M332.80,576.26 L332.80,573.35 L341.20,573.91 L352.40,566.07 L363.59,557.11 L374.79,549.27 L382.63,538.07 L382.63,576.26 Z" fill="#f6ee0c"/>
<path d="M332.80,576.26 L332.80,575.03 L341.20,575.25 L352.40,571.67 L363.59,567.19 L374.79,563.83 L382.63,553.75 L382.63,576.26 Z" fill="#f8b829"/>
<path d="M332.80,576.26 L332.80,575.92 L341.20,575.92 L352.40,574.47 L363.59,571.67 L374.79,568.31 L382.63,562.15 L382.63,576.26 Z" fill="#9a7ae8"/>
<path d="M332.80,576.26 L332.80,576.15 L352.40,575.59 L374.79,573.91 L382.63,571.11 L382.63,576.26 Z" fill="#f8d6f0"/>
<path d="M332.80,576.26 L332.80,576.26 L352.40,576.15 L382.63,575.03 L382.63,576.26 Z" fill="#22b5b5"/>
<polyline points="332.80,573.35 341.20,573.91 352.40,566.07 363.59,557.11 374.79,549.27 382.63,538.07" fill="none" stroke="#8e8a70" stroke-width="0.65"/>
<path d="M400.23,576.28 L400.23,574.23 L407.77,575.31 L418.54,573.15 L429.31,570.46 L440.08,567.77 L449.77,563.46 L449.77,576.28 Z" fill="#f6ee0c"/>
<path d="M400.23,576.28 L400.23,575.85 L418.54,575.31 L429.31,574.23 L440.08,573.15 L449.77,572.61 L449.77,576.28 Z" fill="#f8b829"/>
<path d="M400.23,576.28 L400.23,576.28 L413.15,576.06 L429.31,575.31 L449.77,574.77 L449.77,576.28 Z" fill="#9a7ae8"/>
<path d="M400.23,576.28 L400.23,576.28 L449.77,575.85 L449.77,576.28 Z" fill="#a8d8ee"/>
<path d="M467.23,576.29 L467.23,572.31 L476.92,571.23 L485.54,566.38 L492.00,543.77 L501.69,541.08 L511.38,531.92 L517.31,511.46 L517.31,576.29 Z" fill="#f6ee0c"/>
<path d="M467.23,576.29 L467.23,574.46 L480.15,571.23 L486.61,569.61 L492.00,552.38 L502.77,549.15 L511.38,541.61 L517.31,531.38 L517.31,576.29 Z" fill="#9a7ae8"/>
<path d="M467.23,576.29 L467.23,575.00 L480.15,572.84 L486.61,571.77 L492.00,559.92 L502.77,557.77 L511.38,552.38 L517.31,546.46 L517.31,576.29 Z" fill="#f8b829"/>
<path d="M467.23,576.29 L467.23,575.54 L480.15,574.46 L486.61,572.84 L492.00,570.69 L502.77,567.46 L511.38,563.15 L517.31,559.92 L517.31,576.29 Z" fill="#22b5b5"/>
<path d="M467.23,576.29 L467.23,575.86 L486.61,574.46 L492.00,572.84 L517.31,570.15 L517.31,576.29 Z" fill="#ecbfa0"/>
<path d="M467.23,576.29 L467.23,576.07 L486.61,575.00 L492.00,573.92 L517.31,572.84 L517.31,576.29 Z" fill="#f8d6f0"/>
<text x="93.20" y="278.75" font-size="9.0" font-family='"Liberation Sans", sans-serif' fill="#222222" stroke="#222222" stroke-width="0.05" text-anchor="middle" textLength="52.4" lengthAdjust="spacingAndGlyphs">Macrophages</text>
<text x="156.85" y="267.50" font-size="8.9" font-family='"Liberation Sans", sans-serif' fill="#222222" stroke="#222222" stroke-width="0.05" text-anchor="middle" textLength="32.1" lengthAdjust="spacingAndGlyphs">Classical</text>
<text x="156.75" y="277.50" font-size="8.9" font-family='"Liberation Sans", sans-serif' fill="#222222" stroke="#222222" stroke-width="0.05" text-anchor="middle" textLength="41.9" lengthAdjust="spacingAndGlyphs">monocytes</text>
<text x="224.05" y="267.10" font-size="9.6" font-family='"Liberation Sans", sans-serif' fill="#222222" stroke="#222222" stroke-width="0.05" text-anchor="middle" textLength="28.9" lengthAdjust="spacingAndGlyphs">Helper</text>
<text x="224.30" y="278.70" font-size="9.6" font-family='"Liberation Sans", sans-serif' fill="#222222" stroke="#222222" stroke-width="0.05" text-anchor="middle" textLength="26.6" lengthAdjust="spacingAndGlyphs">T cells</text>
<text x="291.10" y="267.50" font-size="9.0" font-family='"Liberation Sans", sans-serif' fill="#222222" stroke="#222222" stroke-width="0.05" text-anchor="middle" textLength="36.6" lengthAdjust="spacingAndGlyphs">Cytotoxic</text>
<text x="291.50" y="277.50" font-size="9.0" font-family='"Liberation Sans", sans-serif' fill="#222222" stroke="#222222" stroke-width="0.05" text-anchor="middle" textLength="23.0" lengthAdjust="spacingAndGlyphs">T cells</text>
<text x="358.15" y="278.90" font-size="9.0" font-family='"Liberation Sans", sans-serif' fill="#222222" stroke="#222222" stroke-width="0.05" text-anchor="middle" textLength="24.5" lengthAdjust="spacingAndGlyphs">B cells</text>
<text x="425.40" y="267.50" font-size="9.0" font-family='"Liberation Sans", sans-serif' fill="#222222" stroke="#222222" stroke-width="0.05" text-anchor="middle" textLength="27.8" lengthAdjust="spacingAndGlyphs">Mature</text>
<text x="425.40" y="277.50" font-size="9.0" font-family='"Liberation Sans", sans-serif' fill="#222222" stroke="#222222" stroke-width="0.05" text-anchor="middle" textLength="31.4" lengthAdjust="spacingAndGlyphs">NK cells</text>
<text x="492.65" y="267.50" font-size="9.0" font-family='"Liberation Sans", sans-serif' fill="#222222" stroke="#222222" stroke-width="0.05" text-anchor="middle" textLength="36.5" lengthAdjust="spacingAndGlyphs">Immature</text>
<text x="492.35" y="277.50" font-size="9.0" font-family='"Liberation Sans", sans-serif' fill="#222222" stroke="#222222" stroke-width="0.05" text-anchor="middle" textLength="31.3" lengthAdjust="spacingAndGlyphs">NK cells</text>
<line x1="62.30" y1="284.50" x2="62.30" y2="370.45" stroke="#1e1e1e" stroke-width="1.1"/>
<line x1="59.10" y1="365.80" x2="62.30" y2="365.80" stroke="#1e1e1e" stroke-width="1.2"/>
<line x1="59.10" y1="327.05" x2="62.30" y2="327.05" stroke="#1e1e1e" stroke-width="1.2"/>
<line x1="59.10" y1="288.30" x2="62.30" y2="288.30" stroke="#1e1e1e" stroke-width="1.2"/>
<line x1="61.75" y1="369.90" x2="117.30" y2="369.90" stroke="#1e1e1e" stroke-width="1.1"/>
<line x1="80.50" y1="369.90" x2="80.50" y2="373.10" stroke="#1e1e1e" stroke-width="1.0"/>
<text x="80.50" y="383.20" font-size="8.2" font-family='"Liberation Sans", sans-serif' fill="#222222" stroke="#222222" stroke-width="0.1" text-anchor="middle">20</text>
<line x1="100.40" y1="369.90" x2="100.40" y2="373.10" stroke="#1e1e1e" stroke-width="1.0"/>
<text x="100.40" y="383.20" font-size="8.2" font-family='"Liberation Sans", sans-serif' fill="#222222" stroke="#222222" stroke-width="0.1" text-anchor="middle">40</text>
<line x1="129.38" y1="284.50" x2="129.38" y2="370.45" stroke="#1e1e1e" stroke-width="1.1"/>
<line x1="126.18" y1="365.80" x2="129.38" y2="365.80" stroke="#1e1e1e" stroke-width="1.2"/>
<line x1="126.18" y1="327.05" x2="129.38" y2="327.05" stroke="#1e1e1e" stroke-width="1.2"/>
<line x1="126.18" y1="288.30" x2="129.38" y2="288.30" stroke="#1e1e1e" stroke-width="1.2"/>
<line x1="128.83" y1="369.90" x2="184.38" y2="369.90" stroke="#1e1e1e" stroke-width="1.1"/>
<line x1="147.58" y1="369.90" x2="147.58" y2="373.10" stroke="#1e1e1e" stroke-width="1.0"/>
<line x1="167.48" y1="369.90" x2="167.48" y2="373.10" stroke="#1e1e1e" stroke-width="1.0"/>
<line x1="196.46" y1="284.50" x2="196.46" y2="370.45" stroke="#1e1e1e" stroke-width="1.1"/>
<line x1="193.26" y1="365.80" x2="196.46" y2="365.80" stroke="#1e1e1e" stroke-width="1.2"/>
<line x1="193.26" y1="327.05" x2="196.46" y2="327.05" stroke="#1e1e1e" stroke-width="1.2"/>
<line x1="193.26" y1="288.30" x2="196.46" y2="288.30" stroke="#1e1e1e" stroke-width="1.2"/>
<line x1="195.91" y1="369.90" x2="251.46" y2="369.90" stroke="#1e1e1e" stroke-width="1.1"/>
<line x1="214.66" y1="369.90" x2="214.66" y2="373.10" stroke="#1e1e1e" stroke-width="1.0"/>
<line x1="234.56" y1="369.90" x2="234.56" y2="373.10" stroke="#1e1e1e" stroke-width="1.0"/>
<line x1="263.54" y1="284.50" x2="263.54" y2="370.45" stroke="#1e1e1e" stroke-width="1.1"/>
<line x1="260.34" y1="365.80" x2="263.54" y2="365.80" stroke="#1e1e1e" stroke-width="1.2"/>
<line x1="260.34" y1="327.05" x2="263.54" y2="327.05" stroke="#1e1e1e" stroke-width="1.2"/>
<line x1="260.34" y1="288.30" x2="263.54" y2="288.30" stroke="#1e1e1e" stroke-width="1.2"/>
<line x1="262.99" y1="369.90" x2="318.54" y2="369.90" stroke="#1e1e1e" stroke-width="1.1"/>
<line x1="281.74" y1="369.90" x2="281.74" y2="373.10" stroke="#1e1e1e" stroke-width="1.0"/>
<line x1="301.64" y1="369.90" x2="301.64" y2="373.10" stroke="#1e1e1e" stroke-width="1.0"/>
<line x1="330.62" y1="284.50" x2="330.62" y2="370.45" stroke="#1e1e1e" stroke-width="1.1"/>
<line x1="327.42" y1="365.80" x2="330.62" y2="365.80" stroke="#1e1e1e" stroke-width="1.2"/>
<line x1="327.42" y1="327.05" x2="330.62" y2="327.05" stroke="#1e1e1e" stroke-width="1.2"/>
<line x1="327.42" y1="288.30" x2="330.62" y2="288.30" stroke="#1e1e1e" stroke-width="1.2"/>
<line x1="330.07" y1="369.90" x2="385.62" y2="369.90" stroke="#1e1e1e" stroke-width="1.1"/>
<line x1="348.82" y1="369.90" x2="348.82" y2="373.10" stroke="#1e1e1e" stroke-width="1.0"/>
<line x1="368.72" y1="369.90" x2="368.72" y2="373.10" stroke="#1e1e1e" stroke-width="1.0"/>
<line x1="397.70" y1="284.50" x2="397.70" y2="370.45" stroke="#1e1e1e" stroke-width="1.1"/>
<line x1="394.50" y1="365.80" x2="397.70" y2="365.80" stroke="#1e1e1e" stroke-width="1.2"/>
<line x1="394.50" y1="327.05" x2="397.70" y2="327.05" stroke="#1e1e1e" stroke-width="1.2"/>
<line x1="394.50" y1="288.30" x2="397.70" y2="288.30" stroke="#1e1e1e" stroke-width="1.2"/>
<line x1="397.15" y1="369.90" x2="452.70" y2="369.90" stroke="#1e1e1e" stroke-width="1.1"/>
<line x1="415.90" y1="369.90" x2="415.90" y2="373.10" stroke="#1e1e1e" stroke-width="1.0"/>
<line x1="435.80" y1="369.90" x2="435.80" y2="373.10" stroke="#1e1e1e" stroke-width="1.0"/>
<line x1="464.78" y1="284.50" x2="464.78" y2="370.45" stroke="#1e1e1e" stroke-width="1.1"/>
<line x1="461.58" y1="365.80" x2="464.78" y2="365.80" stroke="#1e1e1e" stroke-width="1.2"/>
<line x1="461.58" y1="327.05" x2="464.78" y2="327.05" stroke="#1e1e1e" stroke-width="1.2"/>
<line x1="461.58" y1="288.30" x2="464.78" y2="288.30" stroke="#1e1e1e" stroke-width="1.2"/>
<line x1="464.23" y1="369.90" x2="519.78" y2="369.90" stroke="#1e1e1e" stroke-width="1.1"/>
<line x1="482.98" y1="369.90" x2="482.98" y2="373.10" stroke="#1e1e1e" stroke-width="1.0"/>
<line x1="502.88" y1="369.90" x2="502.88" y2="373.10" stroke="#1e1e1e" stroke-width="1.0"/>
<text x="55.40" y="368.60" font-size="7.9" font-family='"Liberation Sans", sans-serif' fill="#222222" stroke="#222222" stroke-width="0.05" text-anchor="end" textLength="4.4" lengthAdjust="spacingAndGlyphs">0</text>
<text x="55.40" y="329.85" font-size="7.9" font-family='"Liberation Sans", sans-serif' fill="#222222" stroke="#222222" stroke-width="0.05" text-anchor="end" textLength="8.0" lengthAdjust="spacingAndGlyphs">50</text>
<text x="55.40" y="291.10" font-size="7.9" font-family='"Liberation Sans", sans-serif' fill="#222222" stroke="#222222" stroke-width="0.05" text-anchor="end" textLength="11.600000000000001" lengthAdjust="spacingAndGlyphs">100</text>
<line x1="39.40" y1="288.00" x2="39.40" y2="371.90" stroke="#1e1e1e" stroke-width="1.0"/>
<path d="M39.4,284.80 L41.8,289.10 L37.0,289.10 Z" fill="#111"/>
<text transform="translate(33.2,328.00) rotate(-90)" font-size="10.2" stroke="#222222" stroke-width="0.06" font-family='"Liberation Sans", sans-serif' fill="#222222" text-anchor="middle" textLength="78.3" lengthAdjust="spacingAndGlyphs">Mutant allele fraction%</text>
<text transform="translate(15.2,327.70) rotate(-90)" font-size="9.8" stroke="#222222" stroke-width="0.15" font-family='"Liberation Sans", sans-serif' fill="#222222" text-anchor="middle" textLength="21.7" lengthAdjust="spacingAndGlyphs">ZL26</text>
<line x1="62.30" y1="389.50" x2="62.30" y2="475.55" stroke="#1e1e1e" stroke-width="1.1"/>
<line x1="59.10" y1="471.20" x2="62.30" y2="471.20" stroke="#1e1e1e" stroke-width="1.2"/>
<line x1="59.10" y1="451.65" x2="62.30" y2="451.65" stroke="#1e1e1e" stroke-width="1.2"/>
<line x1="59.10" y1="432.10" x2="62.30" y2="432.10" stroke="#1e1e1e" stroke-width="1.2"/>
<line x1="59.10" y1="412.55" x2="62.30" y2="412.55" stroke="#1e1e1e" stroke-width="1.2"/>
<line x1="59.10" y1="393.00" x2="62.30" y2="393.00" stroke="#1e1e1e" stroke-width="1.2"/>
<line x1="61.75" y1="475.00" x2="117.30" y2="475.00" stroke="#1e1e1e" stroke-width="1.1"/>
<line x1="77.10" y1="475.00" x2="77.10" y2="478.20" stroke="#1e1e1e" stroke-width="1.0"/>
<text x="77.10" y="488.30" font-size="8.2" font-family='"Liberation Sans", sans-serif' fill="#222222" stroke="#222222" stroke-width="0.1" text-anchor="middle">10</text>
<line x1="92.60" y1="475.00" x2="92.60" y2="478.20" stroke="#1e1e1e" stroke-width="1.0"/>
<text x="92.60" y="488.30" font-size="8.2" font-family='"Liberation Sans", sans-serif' fill="#222222" stroke="#222222" stroke-width="0.1" text-anchor="middle">20</text>
<line x1="108.10" y1="475.00" x2="108.10" y2="478.20" stroke="#1e1e1e" stroke-width="1.0"/>
<text x="108.10" y="488.30" font-size="8.2" font-family='"Liberation Sans", sans-serif' fill="#222222" stroke="#222222" stroke-width="0.1" text-anchor="middle">30</text>
<line x1="129.38" y1="389.50" x2="129.38" y2="475.55" stroke="#1e1e1e" stroke-width="1.1"/>
<line x1="126.18" y1="471.20" x2="129.38" y2="471.20" stroke="#1e1e1e" stroke-width="1.2"/>
<line x1="126.18" y1="432.10" x2="129.38" y2="432.10" stroke="#1e1e1e" stroke-width="1.2"/>
<line x1="126.18" y1="393.00" x2="129.38" y2="393.00" stroke="#1e1e1e" stroke-width="1.2"/>
<line x1="128.83" y1="475.00" x2="184.38" y2="475.00" stroke="#1e1e1e" stroke-width="1.1"/>
<line x1="147.58" y1="475.00" x2="147.58" y2="478.20" stroke="#1e1e1e" stroke-width="1.0"/>
<line x1="167.48" y1="475.00" x2="167.48" y2="478.20" stroke="#1e1e1e" stroke-width="1.0"/>
<line x1="196.46" y1="389.50" x2="196.46" y2="475.55" stroke="#1e1e1e" stroke-width="1.1"/>
<line x1="193.26" y1="471.20" x2="196.46" y2="471.20" stroke="#1e1e1e" stroke-width="1.2"/>
<line x1="193.26" y1="432.10" x2="196.46" y2="432.10" stroke="#1e1e1e" stroke-width="1.2"/>
<line x1="193.26" y1="393.00" x2="196.46" y2="393.00" stroke="#1e1e1e" stroke-width="1.2"/>
<line x1="195.91" y1="475.00" x2="251.46" y2="475.00" stroke="#1e1e1e" stroke-width="1.1"/>
<line x1="214.66" y1="475.00" x2="214.66" y2="478.20" stroke="#1e1e1e" stroke-width="1.0"/>
<line x1="234.56" y1="475.00" x2="234.56" y2="478.20" stroke="#1e1e1e" stroke-width="1.0"/>
<line x1="263.54" y1="389.50" x2="263.54" y2="475.55" stroke="#1e1e1e" stroke-width="1.1"/>
<line x1="260.34" y1="471.20" x2="263.54" y2="471.20" stroke="#1e1e1e" stroke-width="1.2"/>
<line x1="260.34" y1="432.10" x2="263.54" y2="432.10" stroke="#1e1e1e" stroke-width="1.2"/>
<line x1="260.34" y1="393.00" x2="263.54" y2="393.00" stroke="#1e1e1e" stroke-width="1.2"/>
<line x1="262.99" y1="475.00" x2="318.54" y2="475.00" stroke="#1e1e1e" stroke-width="1.1"/>
<line x1="281.74" y1="475.00" x2="281.74" y2="478.20" stroke="#1e1e1e" stroke-width="1.0"/>
<line x1="301.64" y1="475.00" x2="301.64" y2="478.20" stroke="#1e1e1e" stroke-width="1.0"/>
<line x1="330.62" y1="389.50" x2="330.62" y2="475.55" stroke="#1e1e1e" stroke-width="1.1"/>
<line x1="327.42" y1="471.20" x2="330.62" y2="471.20" stroke="#1e1e1e" stroke-width="1.2"/>
<line x1="327.42" y1="432.10" x2="330.62" y2="432.10" stroke="#1e1e1e" stroke-width="1.2"/>
<line x1="327.42" y1="393.00" x2="330.62" y2="393.00" stroke="#1e1e1e" stroke-width="1.2"/>
<line x1="330.07" y1="475.00" x2="385.62" y2="475.00" stroke="#1e1e1e" stroke-width="1.1"/>
<line x1="348.82" y1="475.00" x2="348.82" y2="478.20" stroke="#1e1e1e" stroke-width="1.0"/>
<line x1="368.72" y1="475.00" x2="368.72" y2="478.20" stroke="#1e1e1e" stroke-width="1.0"/>
<line x1="397.70" y1="389.50" x2="397.70" y2="475.55" stroke="#1e1e1e" stroke-width="1.1"/>
<line x1="394.50" y1="471.20" x2="397.70" y2="471.20" stroke="#1e1e1e" stroke-width="1.2"/>
<line x1="394.50" y1="432.10" x2="397.70" y2="432.10" stroke="#1e1e1e" stroke-width="1.2"/>
<line x1="394.50" y1="393.00" x2="397.70" y2="393.00" stroke="#1e1e1e" stroke-width="1.2"/>
<line x1="397.15" y1="475.00" x2="452.70" y2="475.00" stroke="#1e1e1e" stroke-width="1.1"/>
<line x1="415.90" y1="475.00" x2="415.90" y2="478.20" stroke="#1e1e1e" stroke-width="1.0"/>
<line x1="435.80" y1="475.00" x2="435.80" y2="478.20" stroke="#1e1e1e" stroke-width="1.0"/>
<line x1="464.78" y1="389.50" x2="464.78" y2="475.55" stroke="#1e1e1e" stroke-width="1.1"/>
<line x1="461.58" y1="471.20" x2="464.78" y2="471.20" stroke="#1e1e1e" stroke-width="1.2"/>
<line x1="461.58" y1="432.10" x2="464.78" y2="432.10" stroke="#1e1e1e" stroke-width="1.2"/>
<line x1="461.58" y1="393.00" x2="464.78" y2="393.00" stroke="#1e1e1e" stroke-width="1.2"/>
<line x1="464.23" y1="475.00" x2="519.78" y2="475.00" stroke="#1e1e1e" stroke-width="1.1"/>
<line x1="482.98" y1="475.00" x2="482.98" y2="478.20" stroke="#1e1e1e" stroke-width="1.0"/>
<line x1="502.88" y1="475.00" x2="502.88" y2="478.20" stroke="#1e1e1e" stroke-width="1.0"/>
<text x="55.40" y="474.00" font-size="7.9" font-family='"Liberation Sans", sans-serif' fill="#222222" stroke="#222222" stroke-width="0.05" text-anchor="end" textLength="4.4" lengthAdjust="spacingAndGlyphs">0</text>
<text x="55.40" y="454.45" font-size="7.9" font-family='"Liberation Sans", sans-serif' fill="#222222" stroke="#222222" stroke-width="0.05" text-anchor="end" textLength="4.4" lengthAdjust="spacingAndGlyphs">2</text>
<text x="55.40" y="434.90" font-size="7.9" font-family='"Liberation Sans", sans-serif' fill="#222222" stroke="#222222" stroke-width="0.05" text-anchor="end" textLength="4.4" lengthAdjust="spacingAndGlyphs">4</text>
<text x="55.40" y="415.35" font-size="7.9" font-family='"Liberation Sans", sans-serif' fill="#222222" stroke="#222222" stroke-width="0.05" text-anchor="end" textLength="4.4" lengthAdjust="spacingAndGlyphs">6</text>
<text x="55.40" y="395.80" font-size="7.9" font-family='"Liberation Sans", sans-serif' fill="#222222" stroke="#222222" stroke-width="0.05" text-anchor="end" textLength="4.4" lengthAdjust="spacingAndGlyphs">8</text>
<line x1="39.40" y1="393.00" x2="39.40" y2="477.00" stroke="#1e1e1e" stroke-width="1.0"/>
<path d="M39.4,389.80 L41.8,394.10 L37.0,394.10 Z" fill="#111"/>
<text transform="translate(33.2,433.05) rotate(-90)" font-size="10.2" stroke="#222222" stroke-width="0.06" font-family='"Liberation Sans", sans-serif' fill="#222222" text-anchor="middle" textLength="78.3" lengthAdjust="spacingAndGlyphs">Mutant allele fraction%</text>
<text transform="translate(15.2,432.75) rotate(-90)" font-size="9.8" stroke="#222222" stroke-width="0.15" font-family='"Liberation Sans", sans-serif' fill="#222222" text-anchor="middle" textLength="21.7" lengthAdjust="spacingAndGlyphs">ZL39</text>
<line x1="62.30" y1="494.50" x2="62.30" y2="580.55" stroke="#1e1e1e" stroke-width="1.1"/>
<line x1="59.10" y1="576.30" x2="62.30" y2="576.30" stroke="#1e1e1e" stroke-width="1.2"/>
<line x1="59.10" y1="556.77" x2="62.30" y2="556.77" stroke="#1e1e1e" stroke-width="1.2"/>
<line x1="59.10" y1="537.25" x2="62.30" y2="537.25" stroke="#1e1e1e" stroke-width="1.2"/>
<line x1="59.10" y1="517.73" x2="62.30" y2="517.73" stroke="#1e1e1e" stroke-width="1.2"/>
<line x1="59.10" y1="498.20" x2="62.30" y2="498.20" stroke="#1e1e1e" stroke-width="1.2"/>
<line x1="61.75" y1="580.00" x2="117.30" y2="580.00" stroke="#1e1e1e" stroke-width="1.1"/>
<line x1="81.00" y1="580.00" x2="81.00" y2="583.20" stroke="#1e1e1e" stroke-width="1.0"/>
<text x="81.00" y="593.30" font-size="8.2" font-family='"Liberation Sans", sans-serif' fill="#222222" stroke="#222222" stroke-width="0.1" text-anchor="middle">5</text>
<line x1="106.20" y1="580.00" x2="106.20" y2="583.20" stroke="#1e1e1e" stroke-width="1.0"/>
<text x="106.20" y="593.30" font-size="8.2" font-family='"Liberation Sans", sans-serif' fill="#222222" stroke="#222222" stroke-width="0.1" text-anchor="middle">10</text>
<line x1="129.38" y1="494.50" x2="129.38" y2="580.55" stroke="#1e1e1e" stroke-width="1.1"/>
<line x1="126.18" y1="576.30" x2="129.38" y2="576.30" stroke="#1e1e1e" stroke-width="1.2"/>
<line x1="126.18" y1="537.25" x2="129.38" y2="537.25" stroke="#1e1e1e" stroke-width="1.2"/>
<line x1="126.18" y1="498.20" x2="129.38" y2="498.20" stroke="#1e1e1e" stroke-width="1.2"/>
<line x1="128.83" y1="580.00" x2="184.38" y2="580.00" stroke="#1e1e1e" stroke-width="1.1"/>
<line x1="147.58" y1="580.00" x2="147.58" y2="583.20" stroke="#1e1e1e" stroke-width="1.0"/>
<line x1="167.48" y1="580.00" x2="167.48" y2="583.20" stroke="#1e1e1e" stroke-width="1.0"/>
<line x1="196.46" y1="494.50" x2="196.46" y2="580.55" stroke="#1e1e1e" stroke-width="1.1"/>
<line x1="193.26" y1="576.30" x2="196.46" y2="576.30" stroke="#1e1e1e" stroke-width="1.2"/>
<line x1="193.26" y1="537.25" x2="196.46" y2="537.25" stroke="#1e1e1e" stroke-width="1.2"/>
<line x1="193.26" y1="498.20" x2="196.46" y2="498.20" stroke="#1e1e1e" stroke-width="1.2"/>
<line x1="195.91" y1="580.00" x2="251.46" y2="580.00" stroke="#1e1e1e" stroke-width="1.1"/>
<line x1="214.66" y1="580.00" x2="214.66" y2="583.20" stroke="#1e1e1e" stroke-width="1.0"/>
<line x1="234.56" y1="580.00" x2="234.56" y2="583.20" stroke="#1e1e1e" stroke-width="1.0"/>
<line x1="263.54" y1="494.50" x2="263.54" y2="580.55" stroke="#1e1e1e" stroke-width="1.1"/>
<line x1="260.34" y1="576.30" x2="263.54" y2="576.30" stroke="#1e1e1e" stroke-width="1.2"/>
<line x1="260.34" y1="537.25" x2="263.54" y2="537.25" stroke="#1e1e1e" stroke-width="1.2"/>
<line x1="260.34" y1="498.20" x2="263.54" y2="498.20" stroke="#1e1e1e" stroke-width="1.2"/>
<line x1="262.99" y1="580.00" x2="318.54" y2="580.00" stroke="#1e1e1e" stroke-width="1.1"/>
<line x1="281.74" y1="580.00" x2="281.74" y2="583.20" stroke="#1e1e1e" stroke-width="1.0"/>
<line x1="301.64" y1="580.00" x2="301.64" y2="583.20" stroke="#1e1e1e" stroke-width="1.0"/>
<line x1="330.62" y1="494.50" x2="330.62" y2="580.55" stroke="#1e1e1e" stroke-width="1.1"/>
<line x1="327.42" y1="576.30" x2="330.62" y2="576.30" stroke="#1e1e1e" stroke-width="1.2"/>
<line x1="327.42" y1="537.25" x2="330.62" y2="537.25" stroke="#1e1e1e" stroke-width="1.2"/>
<line x1="327.42" y1="498.20" x2="330.62" y2="498.20" stroke="#1e1e1e" stroke-width="1.2"/>
<line x1="330.07" y1="580.00" x2="385.62" y2="580.00" stroke="#1e1e1e" stroke-width="1.1"/>
<line x1="348.82" y1="580.00" x2="348.82" y2="583.20" stroke="#1e1e1e" stroke-width="1.0"/>
<line x1="368.72" y1="580.00" x2="368.72" y2="583.20" stroke="#1e1e1e" stroke-width="1.0"/>
<line x1="397.70" y1="494.50" x2="397.70" y2="580.55" stroke="#1e1e1e" stroke-width="1.1"/>
<line x1="394.50" y1="576.30" x2="397.70" y2="576.30" stroke="#1e1e1e" stroke-width="1.2"/>
<line x1="394.50" y1="537.25" x2="397.70" y2="537.25" stroke="#1e1e1e" stroke-width="1.2"/>
<line x1="394.50" y1="498.20" x2="397.70" y2="498.20" stroke="#1e1e1e" stroke-width="1.2"/>
<line x1="397.15" y1="580.00" x2="452.70" y2="580.00" stroke="#1e1e1e" stroke-width="1.1"/>
<line x1="415.90" y1="580.00" x2="415.90" y2="583.20" stroke="#1e1e1e" stroke-width="1.0"/>
<line x1="435.80" y1="580.00" x2="435.80" y2="583.20" stroke="#1e1e1e" stroke-width="1.0"/>
<line x1="464.78" y1="494.50" x2="464.78" y2="580.55" stroke="#1e1e1e" stroke-width="1.1"/>
<line x1="461.58" y1="576.30" x2="464.78" y2="576.30" stroke="#1e1e1e" stroke-width="1.2"/>
<line x1="461.58" y1="537.25" x2="464.78" y2="537.25" stroke="#1e1e1e" stroke-width="1.2"/>
<line x1="461.58" y1="498.20" x2="464.78" y2="498.20" stroke="#1e1e1e" stroke-width="1.2"/>
<line x1="464.23" y1="580.00" x2="519.78" y2="580.00" stroke="#1e1e1e" stroke-width="1.1"/>
<line x1="482.98" y1="580.00" x2="482.98" y2="583.20" stroke="#1e1e1e" stroke-width="1.0"/>
<line x1="502.88" y1="580.00" x2="502.88" y2="583.20" stroke="#1e1e1e" stroke-width="1.0"/>
<text x="55.40" y="579.10" font-size="7.9" font-family='"Liberation Sans", sans-serif' fill="#222222" stroke="#222222" stroke-width="0.05" text-anchor="end" textLength="4.4" lengthAdjust="spacingAndGlyphs">0</text>
<text x="55.40" y="559.57" font-size="7.9" font-family='"Liberation Sans", sans-serif' fill="#222222" stroke="#222222" stroke-width="0.05" text-anchor="end" textLength="8.0" lengthAdjust="spacingAndGlyphs">10</text>
<text x="55.40" y="540.05" font-size="7.9" font-family='"Liberation Sans", sans-serif' fill="#222222" stroke="#222222" stroke-width="0.05" text-anchor="end" textLength="8.0" lengthAdjust="spacingAndGlyphs">20</text>
<text x="55.40" y="520.52" font-size="7.9" font-family='"Liberation Sans", sans-serif' fill="#222222" stroke="#222222" stroke-width="0.05" text-anchor="end" textLength="8.0" lengthAdjust="spacingAndGlyphs">30</text>
<text x="55.40" y="501.00" font-size="7.9" font-family='"Liberation Sans", sans-serif' fill="#222222" stroke="#222222" stroke-width="0.05" text-anchor="end" textLength="8.0" lengthAdjust="spacingAndGlyphs">40</text>
<line x1="39.40" y1="498.00" x2="39.40" y2="582.00" stroke="#1e1e1e" stroke-width="1.0"/>
<path d="M39.4,494.80 L41.8,499.10 L37.0,499.10 Z" fill="#111"/>
<text transform="translate(33.2,538.05) rotate(-90)" font-size="10.2" stroke="#222222" stroke-width="0.06" font-family='"Liberation Sans", sans-serif' fill="#222222" text-anchor="middle" textLength="78.3" lengthAdjust="spacingAndGlyphs">Mutant allele fraction%</text>
<text transform="translate(15.2,537.75) rotate(-90)" font-size="9.8" stroke="#222222" stroke-width="0.15" font-family='"Liberation Sans", sans-serif' fill="#222222" text-anchor="middle" textLength="21.7" lengthAdjust="spacingAndGlyphs">ZH63</text>
<line x1="62.70" y1="596.20" x2="112.00" y2="596.20" stroke="#1e1e1e" stroke-width="1.0"/>
<path d="M117.6,596.2 L111.4,593.7 L111.4,598.7 Z" fill="#111"/>
<text x="119.50" y="599.50" font-size="9.6" font-family='"Liberation Sans", sans-serif' fill="#222222" stroke="#222222" stroke-width="0.15" textLength="79.0" lengthAdjust="spacingAndGlyphs">Months post-transplant</text>
<text x="8.65" y="620.00" font-size="8.3" font-family='"Liberation Sans", sans-serif' fill="#333" stroke="#333" stroke-width="0" textLength="11.3" lengthAdjust="spacingAndGlyphs">WT</text>
<text x="38.10" y="619.50" font-size="7.1" font-family='"Liberation Mono", monospace' font-weight="bold" fill="#1a1a1a" stroke="#1a1a1a" stroke-width="0.12" textLength="72.64" lengthAdjust="spacingAndGlyphs">CGTCCATTCTCAGGGG</text>
<line x1="97.12" y1="621.00" x2="110.74" y2="621.00" stroke="#222" stroke-width="0.8"/>
<text x="110.74" y="619.50" font-size="7.1" font-family='"Liberation Mono", monospace' fill="#888" textLength="18.16" lengthAdjust="spacingAndGlyphs">TCAC</text>
<text x="8.65" y="633.32" font-size="8.3" font-family='"Liberation Sans", sans-serif' fill="#333" stroke="#333" stroke-width="0" textLength="22.45" lengthAdjust="spacingAndGlyphs">Indel 1</text>
<text x="38.10" y="632.82" font-size="7.1" font-family='"Liberation Mono", monospace' font-weight="bold" fill="#1a1a1a" stroke="#1a1a1a" stroke-width="0.12" textLength="31.78" lengthAdjust="spacingAndGlyphs">CGTCCAT</text>
<line x1="70.58" y1="630.62" x2="78.26" y2="630.62" stroke="#d8506a" stroke-width="0.85" stroke-dasharray="3.1,1.44"/>
<text x="78.96" y="632.82" font-size="7.1" font-family='"Liberation Mono", monospace' font-weight="bold" fill="#1a1a1a" stroke="#1a1a1a" stroke-width="0.12" textLength="31.78" lengthAdjust="spacingAndGlyphs">TCAGGGG</text>
<line x1="97.12" y1="634.32" x2="110.74" y2="634.32" stroke="#222" stroke-width="0.8"/>
<text x="110.74" y="632.82" font-size="7.1" font-family='"Liberation Mono", monospace' fill="#888" textLength="18.16" lengthAdjust="spacingAndGlyphs">TCAC</text>
<rect x="135.10" y="627.52" width="5.7" height="5.7" fill="#f5b324"/>
<text x="8.65" y="646.64" font-size="8.3" font-family='"Liberation Sans", sans-serif' fill="#333" stroke="#333" stroke-width="0" textLength="22.45" lengthAdjust="spacingAndGlyphs">Indel 2</text>
<text x="38.10" y="646.14" font-size="7.1" font-family='"Liberation Mono", monospace' font-weight="bold" fill="#1a1a1a" stroke="#1a1a1a" stroke-width="0.12" textLength="36.32" lengthAdjust="spacingAndGlyphs">CGTCCATT</text>
<line x1="75.12" y1="643.94" x2="78.26" y2="643.94" stroke="#d8506a" stroke-width="0.85" stroke-dasharray="3.1,1.44"/>
<text x="78.96" y="646.14" font-size="7.1" font-family='"Liberation Mono", monospace' font-weight="bold" fill="#1a1a1a" stroke="#1a1a1a" stroke-width="0.12" textLength="31.78" lengthAdjust="spacingAndGlyphs">TCAGGGG</text>
<line x1="97.12" y1="647.64" x2="110.74" y2="647.64" stroke="#222" stroke-width="0.8"/>
<text x="110.74" y="646.14" font-size="7.1" font-family='"Liberation Mono", monospace' fill="#888" textLength="18.16" lengthAdjust="spacingAndGlyphs">TCAC</text>
<rect x="135.10" y="640.84" width="5.7" height="5.7" fill="#c2321c"/>
<text x="8.65" y="659.96" font-size="8.3" font-family='"Liberation Sans", sans-serif' fill="#333" stroke="#333" stroke-width="0" textLength="22.45" lengthAdjust="spacingAndGlyphs">Indel 3</text>
<text x="38.10" y="659.46" font-size="7.1" font-family='"Liberation Mono", monospace' font-weight="bold" fill="#1a1a1a" stroke="#1a1a1a" stroke-width="0.12" textLength="40.86" lengthAdjust="spacingAndGlyphs">CGTCCATTC</text>
<line x1="79.66" y1="657.26" x2="82.80" y2="657.26" stroke="#d8506a" stroke-width="0.85" stroke-dasharray="3.1,1.44"/>
<text x="83.50" y="659.46" font-size="7.1" font-family='"Liberation Mono", monospace' font-weight="bold" fill="#1a1a1a" stroke="#1a1a1a" stroke-width="0.12" textLength="27.24" lengthAdjust="spacingAndGlyphs">CAGGGG</text>
<line x1="97.12" y1="660.96" x2="110.74" y2="660.96" stroke="#222" stroke-width="0.8"/>
<text x="110.74" y="659.46" font-size="7.1" font-family='"Liberation Mono", monospace' fill="#888" textLength="18.16" lengthAdjust="spacingAndGlyphs">TCAC</text>
<rect x="135.10" y="654.16" width="5.7" height="5.7" fill="#f27a70"/>
<text x="8.65" y="673.28" font-size="8.3" font-family='"Liberation Sans", sans-serif' fill="#333" stroke="#333" stroke-width="0" textLength="22.45" lengthAdjust="spacingAndGlyphs">Indel 4</text>
<text x="38.10" y="672.78" font-size="7.1" font-family='"Liberation Mono", monospace' font-weight="bold" fill="#1a1a1a" stroke="#1a1a1a" stroke-width="0.12" textLength="45.40" lengthAdjust="spacingAndGlyphs">CGTCCATTCT</text>
<line x1="84.20" y1="670.58" x2="91.88" y2="670.58" stroke="#d8506a" stroke-width="0.85" stroke-dasharray="3.1,1.44"/>
<text x="92.58" y="672.78" font-size="7.1" font-family='"Liberation Mono", monospace' font-weight="bold" fill="#1a1a1a" stroke="#1a1a1a" stroke-width="0.12" textLength="18.16" lengthAdjust="spacingAndGlyphs">GGGG</text>
<line x1="97.12" y1="674.28" x2="110.74" y2="674.28" stroke="#222" stroke-width="0.8"/>
<text x="110.74" y="672.78" font-size="7.1" font-family='"Liberation Mono", monospace' fill="#888" textLength="18.16" lengthAdjust="spacingAndGlyphs">TCAC</text>
<rect x="135.10" y="667.48" width="5.7" height="5.7" fill="#f9d6f2"/>
<text x="8.65" y="686.60" font-size="8.3" font-family='"Liberation Sans", sans-serif' fill="#333" stroke="#333" stroke-width="0" textLength="22.45" lengthAdjust="spacingAndGlyphs">Indel 5</text>
<text x="38.10" y="686.10" font-size="7.1" font-family='"Liberation Mono", monospace' font-weight="bold" fill="#1a1a1a" stroke="#1a1a1a" stroke-width="0.12" textLength="45.40" lengthAdjust="spacingAndGlyphs">CGTCCATTCT</text>
<text x="83.50" y="686.10" font-size="7.1" font-family='"Liberation Mono", monospace' font-weight="bold" fill="#e0303a" stroke="#e0303a" stroke-width="0.12" textLength="4.54" lengthAdjust="spacingAndGlyphs">T</text>
<text x="88.04" y="686.10" font-size="7.1" font-family='"Liberation Mono", monospace' font-weight="bold" fill="#1a1a1a" stroke="#1a1a1a" stroke-width="0.12" textLength="27.24" lengthAdjust="spacingAndGlyphs">CAGGGG</text>
<line x1="101.66" y1="687.60" x2="115.28" y2="687.60" stroke="#222" stroke-width="0.8"/>
<text x="115.28" y="686.10" font-size="7.1" font-family='"Liberation Mono", monospace' fill="#888" textLength="13.62" lengthAdjust="spacingAndGlyphs">TCA</text>
<rect x="135.10" y="680.80" width="5.7" height="5.7" fill="#f8ef10"/>
<text x="8.65" y="699.92" font-size="8.3" font-family='"Liberation Sans", sans-serif' fill="#333" stroke="#333" stroke-width="0" textLength="22.45" lengthAdjust="spacingAndGlyphs">Indel 6</text>
<text x="38.10" y="699.42" font-size="7.1" font-family='"Liberation Mono", monospace' font-weight="bold" fill="#1a1a1a" stroke="#1a1a1a" stroke-width="0.12" textLength="22.70" lengthAdjust="spacingAndGlyphs">CGTCC</text>
<line x1="61.50" y1="697.22" x2="82.80" y2="697.22" stroke="#d8506a" stroke-width="0.85" stroke-dasharray="3.1,1.44"/>
<text x="83.50" y="699.42" font-size="7.1" font-family='"Liberation Mono", monospace' font-weight="bold" fill="#1a1a1a" stroke="#1a1a1a" stroke-width="0.12" textLength="27.24" lengthAdjust="spacingAndGlyphs">CAGGGG</text>
<line x1="97.12" y1="700.92" x2="110.74" y2="700.92" stroke="#222" stroke-width="0.8"/>
<text x="110.74" y="699.42" font-size="7.1" font-family='"Liberation Mono", monospace' fill="#888" textLength="18.16" lengthAdjust="spacingAndGlyphs">TCAC</text>
<rect x="135.10" y="694.12" width="5.7" height="5.7" fill="#e2639c"/>
<text x="8.65" y="713.24" font-size="8.3" font-family='"Liberation Sans", sans-serif' fill="#333" stroke="#333" stroke-width="0" textLength="22.45" lengthAdjust="spacingAndGlyphs">Indel 7</text>
<text x="38.10" y="712.74" font-size="7.1" font-family='"Liberation Mono", monospace' font-weight="bold" fill="#1a1a1a" stroke="#1a1a1a" stroke-width="0.12" textLength="27.24" lengthAdjust="spacingAndGlyphs">CGTCCA</text>
<line x1="66.04" y1="710.54" x2="78.26" y2="710.54" stroke="#d8506a" stroke-width="0.85" stroke-dasharray="3.1,1.44"/>
<text x="78.96" y="712.74" font-size="7.1" font-family='"Liberation Mono", monospace' font-weight="bold" fill="#1a1a1a" stroke="#1a1a1a" stroke-width="0.12" textLength="31.78" lengthAdjust="spacingAndGlyphs">TCAGGGG</text>
<line x1="97.12" y1="714.24" x2="110.74" y2="714.24" stroke="#222" stroke-width="0.8"/>
<text x="110.74" y="712.74" font-size="7.1" font-family='"Liberation Mono", monospace' fill="#888" textLength="18.16" lengthAdjust="spacingAndGlyphs">TCAC</text>
<rect x="135.10" y="707.44" width="5.7" height="5.7" fill="#8b77e8"/>
<text x="190.80" y="620.00" font-size="8.3" font-family='"Liberation Sans", sans-serif' fill="#333" stroke="#333" stroke-width="0" textLength="22.45" lengthAdjust="spacingAndGlyphs">Indel 8</text>
<text x="224.40" y="619.50" font-size="7.1" font-family='"Liberation Mono", monospace' font-weight="bold" fill="#1a1a1a" stroke="#1a1a1a" stroke-width="0.12" textLength="18.16" lengthAdjust="spacingAndGlyphs">CGTC</text>
<line x1="243.26" y1="617.30" x2="269.10" y2="617.30" stroke="#d8506a" stroke-width="0.85" stroke-dasharray="3.1,1.44"/>
<text x="269.80" y="619.50" font-size="7.1" font-family='"Liberation Mono", monospace' font-weight="bold" fill="#1a1a1a" stroke="#1a1a1a" stroke-width="0.12" textLength="27.24" lengthAdjust="spacingAndGlyphs">CAGGGG</text>
<line x1="283.42" y1="621.00" x2="297.04" y2="621.00" stroke="#222" stroke-width="0.8"/>
<text x="297.04" y="619.50" font-size="7.1" font-family='"Liberation Mono", monospace' fill="#888" textLength="18.16" lengthAdjust="spacingAndGlyphs">TCAC</text>
<rect x="320.90" y="614.20" width="5.7" height="5.7" fill="#3d5f80"/>
<text x="190.80" y="633.32" font-size="8.3" font-family='"Liberation Sans", sans-serif' fill="#333" stroke="#333" stroke-width="0" textLength="22.45" lengthAdjust="spacingAndGlyphs">Indel 9</text>
<text x="224.40" y="632.82" font-size="7.1" font-family='"Liberation Mono", monospace' font-weight="bold" fill="#1a1a1a" stroke="#1a1a1a" stroke-width="0.12" textLength="45.40" lengthAdjust="spacingAndGlyphs">CGTCCATTCT</text>
<line x1="270.50" y1="630.62" x2="273.64" y2="630.62" stroke="#d8506a" stroke-width="0.85" stroke-dasharray="3.1,1.44"/>
<text x="274.34" y="632.82" font-size="7.1" font-family='"Liberation Mono", monospace' font-weight="bold" fill="#1a1a1a" stroke="#1a1a1a" stroke-width="0.12" textLength="22.70" lengthAdjust="spacingAndGlyphs">AGGGG</text>
<line x1="283.42" y1="634.32" x2="297.04" y2="634.32" stroke="#222" stroke-width="0.8"/>
<text x="297.04" y="632.82" font-size="7.1" font-family='"Liberation Mono", monospace' fill="#888" textLength="18.16" lengthAdjust="spacingAndGlyphs">TCAC</text>
<rect x="320.90" y="627.52" width="5.7" height="5.7" fill="#8c6722"/>
<text x="190.80" y="646.64" font-size="8.3" font-family='"Liberation Sans", sans-serif' fill="#333" stroke="#333" stroke-width="0" textLength="27.6" lengthAdjust="spacingAndGlyphs">Indel 10</text>
<text x="224.40" y="646.14" font-size="7.1" font-family='"Liberation Mono", monospace' font-weight="bold" fill="#1a1a1a" stroke="#1a1a1a" stroke-width="0.12" textLength="9.08" lengthAdjust="spacingAndGlyphs">CG</text>
<line x1="234.18" y1="643.94" x2="264.56" y2="643.94" stroke="#d8506a" stroke-width="0.85" stroke-dasharray="3.1,1.44"/>
<text x="265.26" y="646.14" font-size="7.1" font-family='"Liberation Mono", monospace' font-weight="bold" fill="#1a1a1a" stroke="#1a1a1a" stroke-width="0.12" textLength="31.78" lengthAdjust="spacingAndGlyphs">TCAGGGG</text>
<line x1="283.42" y1="647.64" x2="297.04" y2="647.64" stroke="#222" stroke-width="0.8"/>
<text x="297.04" y="646.14" font-size="7.1" font-family='"Liberation Mono", monospace' fill="#888" textLength="18.16" lengthAdjust="spacingAndGlyphs">TCAC</text>
<rect x="320.90" y="640.84" width="5.7" height="5.7" fill="#35bb35"/>
<text x="190.80" y="659.96" font-size="8.3" font-family='"Liberation Sans", sans-serif' fill="#333" stroke="#333" stroke-width="0" textLength="27.6" lengthAdjust="spacingAndGlyphs">Indel 11</text>
<text x="224.40" y="659.46" font-size="7.1" font-family='"Liberation Mono", monospace' font-weight="bold" fill="#1a1a1a" stroke="#1a1a1a" stroke-width="0.12" textLength="4.54" lengthAdjust="spacingAndGlyphs">C</text>
<line x1="229.64" y1="657.26" x2="291.80" y2="657.26" stroke="#d8506a" stroke-width="0.85" stroke-dasharray="3.1,1.44"/>
<text x="292.50" y="659.46" font-size="7.1" font-family='"Liberation Mono", monospace' font-weight="bold" fill="#1a1a1a" stroke="#1a1a1a" stroke-width="0.12" textLength="4.54" lengthAdjust="spacingAndGlyphs">G</text>
<line x1="283.42" y1="660.96" x2="297.04" y2="660.96" stroke="#222" stroke-width="0.8"/>
<text x="297.04" y="659.46" font-size="7.1" font-family='"Liberation Mono", monospace' fill="#888" textLength="18.16" lengthAdjust="spacingAndGlyphs">TCAC</text>
<rect x="320.90" y="654.16" width="5.7" height="5.7" fill="#0c0ccc"/>
<text x="190.80" y="673.28" font-size="8.3" font-family='"Liberation Sans", sans-serif' fill="#333" stroke="#333" stroke-width="0" textLength="27.6" lengthAdjust="spacingAndGlyphs">Indel 12</text>
<text x="224.40" y="672.78" font-size="7.1" font-family='"Liberation Mono", monospace' font-weight="bold" fill="#1a1a1a" stroke="#1a1a1a" stroke-width="0.12" textLength="45.40" lengthAdjust="spacingAndGlyphs">CGTCCATTCT</text>
<text x="269.80" y="672.78" font-size="7.1" font-family='"Liberation Mono", monospace' font-weight="bold" fill="#e0303a" stroke="#e0303a" stroke-width="0.12" textLength="9.08" lengthAdjust="spacingAndGlyphs">TT</text>
<text x="278.88" y="672.78" font-size="7.1" font-family='"Liberation Mono", monospace' font-weight="bold" fill="#1a1a1a" stroke="#1a1a1a" stroke-width="0.12" textLength="27.24" lengthAdjust="spacingAndGlyphs">CAGGGG</text>
<line x1="292.50" y1="674.28" x2="306.12" y2="674.28" stroke="#222" stroke-width="0.8"/>
<text x="306.12" y="672.78" font-size="7.1" font-family='"Liberation Mono", monospace' fill="#888" textLength="9.08" lengthAdjust="spacingAndGlyphs">TC</text>
<rect x="320.90" y="667.48" width="5.7" height="5.7" fill="#d9b98f"/>
<text x="190.80" y="686.60" font-size="8.3" font-family='"Liberation Sans", sans-serif' fill="#333" stroke="#333" stroke-width="0" textLength="27.6" lengthAdjust="spacingAndGlyphs">Indel 13</text>
<text x="224.40" y="686.10" font-size="7.1" font-family='"Liberation Mono", monospace' font-weight="bold" fill="#1a1a1a" stroke="#1a1a1a" stroke-width="0.12" textLength="18.16" lengthAdjust="spacingAndGlyphs">CGTC</text>
<line x1="243.26" y1="683.90" x2="260.02" y2="683.90" stroke="#d8506a" stroke-width="0.85" stroke-dasharray="3.1,1.44"/>
<text x="260.72" y="686.10" font-size="7.1" font-family='"Liberation Mono", monospace' font-weight="bold" fill="#1a1a1a" stroke="#1a1a1a" stroke-width="0.12" textLength="36.32" lengthAdjust="spacingAndGlyphs">CTCAGGGG</text>
<line x1="283.42" y1="687.60" x2="297.04" y2="687.60" stroke="#222" stroke-width="0.8"/>
<text x="297.04" y="686.10" font-size="7.1" font-family='"Liberation Mono", monospace' fill="#888" textLength="18.16" lengthAdjust="spacingAndGlyphs">TCAC</text>
<rect x="320.90" y="680.80" width="5.7" height="5.7" fill="#c9cbcd"/>
<text x="190.80" y="699.92" font-size="8.3" font-family='"Liberation Sans", sans-serif' fill="#333" stroke="#333" stroke-width="0" textLength="27.6" lengthAdjust="spacingAndGlyphs">Indel 14</text>
<text x="224.40" y="699.42" font-size="7.1" font-family='"Liberation Mono", monospace' font-weight="bold" fill="#1a1a1a" stroke="#1a1a1a" stroke-width="0.12" textLength="27.24" lengthAdjust="spacingAndGlyphs">CGTCCA</text>
<line x1="252.34" y1="697.22" x2="269.10" y2="697.22" stroke="#d8506a" stroke-width="0.85" stroke-dasharray="3.1,1.44"/>
<text x="269.80" y="699.42" font-size="7.1" font-family='"Liberation Mono", monospace' font-weight="bold" fill="#1a1a1a" stroke="#1a1a1a" stroke-width="0.12" textLength="27.24" lengthAdjust="spacingAndGlyphs">CAGGGG</text>
<line x1="283.42" y1="700.92" x2="297.04" y2="700.92" stroke="#222" stroke-width="0.8"/>
<text x="297.04" y="699.42" font-size="7.1" font-family='"Liberation Mono", monospace' fill="#888" textLength="18.16" lengthAdjust="spacingAndGlyphs">TCAC</text>
<rect x="320.90" y="694.12" width="5.7" height="5.7" fill="#6c3b7b"/>
<text x="190.80" y="713.24" font-size="8.3" font-family='"Liberation Sans", sans-serif' fill="#333" stroke="#333" stroke-width="0" textLength="27.6" lengthAdjust="spacingAndGlyphs">Indel 15</text>
<line x1="225.10" y1="710.54" x2="264.56" y2="710.54" stroke="#d8506a" stroke-width="0.85" stroke-dasharray="3.1,1.44"/>
<text x="265.26" y="712.74" font-size="7.1" font-family='"Liberation Mono", monospace' font-weight="bold" fill="#1a1a1a" stroke="#1a1a1a" stroke-width="0.12" textLength="31.78" lengthAdjust="spacingAndGlyphs">TCAGGGG</text>
<line x1="283.42" y1="714.24" x2="297.04" y2="714.24" stroke="#222" stroke-width="0.8"/>
<text x="297.04" y="712.74" font-size="7.1" font-family='"Liberation Mono", monospace' fill="#888" textLength="18.16" lengthAdjust="spacingAndGlyphs">TCAC</text>
<rect x="320.90" y="707.44" width="5.7" height="5.7" fill="#24b2b2"/>
<text x="374.30" y="620.00" font-size="8.3" font-family='"Liberation Sans", sans-serif' fill="#333" stroke="#333" stroke-width="0" textLength="27.6" lengthAdjust="spacingAndGlyphs">Indel 16</text>
<line x1="408.20" y1="617.30" x2="461.28" y2="617.30" stroke="#d8506a" stroke-width="0.85" stroke-dasharray="3.1,1.44"/>
<text x="461.98" y="619.50" font-size="7.1" font-family='"Liberation Mono", monospace' font-weight="bold" fill="#1a1a1a" stroke="#1a1a1a" stroke-width="0.12" textLength="18.16" lengthAdjust="spacingAndGlyphs">GGGG</text>
<line x1="466.52" y1="621.00" x2="480.14" y2="621.00" stroke="#222" stroke-width="0.8"/>
<text x="480.14" y="619.50" font-size="7.1" font-family='"Liberation Mono", monospace' fill="#888" textLength="18.16" lengthAdjust="spacingAndGlyphs">TCAC</text>
<rect x="504.00" y="614.20" width="5.7" height="5.7" fill="#82f0d2"/>
<text x="374.30" y="633.32" font-size="8.3" font-family='"Liberation Sans", sans-serif' fill="#333" stroke="#333" stroke-width="0" textLength="27.6" lengthAdjust="spacingAndGlyphs">Indel 17</text>
<text x="407.50" y="632.82" font-size="7.1" font-family='"Liberation Mono", monospace' font-weight="bold" fill="#1a1a1a" stroke="#1a1a1a" stroke-width="0.12" textLength="40.86" lengthAdjust="spacingAndGlyphs">CGTCCATTC</text>
<line x1="449.06" y1="630.62" x2="461.28" y2="630.62" stroke="#d8506a" stroke-width="0.85" stroke-dasharray="3.1,1.44"/>
<text x="461.98" y="632.82" font-size="7.1" font-family='"Liberation Mono", monospace' font-weight="bold" fill="#1a1a1a" stroke="#1a1a1a" stroke-width="0.12" textLength="18.16" lengthAdjust="spacingAndGlyphs">GGGG</text>
<line x1="466.52" y1="634.32" x2="480.14" y2="634.32" stroke="#222" stroke-width="0.8"/>
<text x="480.14" y="632.82" font-size="7.1" font-family='"Liberation Mono", monospace' fill="#888" textLength="18.16" lengthAdjust="spacingAndGlyphs">TCAC</text>
<rect x="504.00" y="627.52" width="5.7" height="5.7" fill="#f6e9d6"/>
<text x="374.30" y="646.64" font-size="8.3" font-family='"Liberation Sans", sans-serif' fill="#333" stroke="#333" stroke-width="0" textLength="27.6" lengthAdjust="spacingAndGlyphs">Indel 18</text>
<line x1="408.20" y1="643.94" x2="452.20" y2="643.94" stroke="#d8506a" stroke-width="0.85" stroke-dasharray="3.1,1.44"/>
<text x="452.90" y="646.14" font-size="7.1" font-family='"Liberation Mono", monospace' font-weight="bold" fill="#1a1a1a" stroke="#1a1a1a" stroke-width="0.12" textLength="27.24" lengthAdjust="spacingAndGlyphs">CAGGGG</text>
<line x1="466.52" y1="647.64" x2="480.14" y2="647.64" stroke="#222" stroke-width="0.8"/>
<text x="480.14" y="646.14" font-size="7.1" font-family='"Liberation Mono", monospace' fill="#888" textLength="18.16" lengthAdjust="spacingAndGlyphs">TCAC</text>
<rect x="504.00" y="640.84" width="5.7" height="5.7" fill="#12a8f0"/>
<text x="374.30" y="659.96" font-size="8.3" font-family='"Liberation Sans", sans-serif' fill="#333" stroke="#333" stroke-width="0" textLength="27.6" lengthAdjust="spacingAndGlyphs">Indel 19</text>
<line x1="408.20" y1="657.26" x2="461.28" y2="657.26" stroke="#d8506a" stroke-width="0.85" stroke-dasharray="3.1,1.44"/>
<text x="461.98" y="659.46" font-size="7.1" font-family='"Liberation Mono", monospace' font-weight="bold" fill="#1a1a1a" stroke="#1a1a1a" stroke-width="0.12" textLength="18.16" lengthAdjust="spacingAndGlyphs">GGGG</text>
<line x1="466.52" y1="660.96" x2="480.14" y2="660.96" stroke="#222" stroke-width="0.8"/>
<text x="480.14" y="659.46" font-size="7.1" font-family='"Liberation Mono", monospace' fill="#888" textLength="18.16" lengthAdjust="spacingAndGlyphs">TCAC</text>
<rect x="504.00" y="654.16" width="5.7" height="5.7" fill="#d2b2a2"/>
<text x="374.30" y="673.28" font-size="8.3" font-family='"Liberation Sans", sans-serif' fill="#333" stroke="#333" stroke-width="0" textLength="27.6" lengthAdjust="spacingAndGlyphs">Indel 20</text>
<text x="407.50" y="672.78" font-size="7.1" font-family='"Liberation Mono", monospace' font-weight="bold" fill="#1a1a1a" stroke="#1a1a1a" stroke-width="0.12" textLength="27.24" lengthAdjust="spacingAndGlyphs">CGTCCA</text>
<line x1="435.44" y1="670.58" x2="438.58" y2="670.58" stroke="#d8506a" stroke-width="0.85" stroke-dasharray="3.1,1.44"/>
<text x="439.28" y="672.78" font-size="7.1" font-family='"Liberation Mono", monospace' font-weight="bold" fill="#1a1a1a" stroke="#1a1a1a" stroke-width="0.12" textLength="40.86" lengthAdjust="spacingAndGlyphs">TCTCAGGGG</text>
<line x1="466.52" y1="674.28" x2="480.14" y2="674.28" stroke="#222" stroke-width="0.8"/>
<text x="480.14" y="672.78" font-size="7.1" font-family='"Liberation Mono", monospace' fill="#888" textLength="18.16" lengthAdjust="spacingAndGlyphs">TCAC</text>
<rect x="504.00" y="667.48" width="5.7" height="5.7" fill="#7b4232"/>
<text x="374.30" y="686.60" font-size="8.3" font-family='"Liberation Sans", sans-serif' fill="#333" stroke="#333" stroke-width="0" textLength="27.6" lengthAdjust="spacingAndGlyphs">Indel 21</text>
<text x="407.50" y="686.10" font-size="7.1" font-family='"Liberation Mono", monospace' font-weight="bold" fill="#1a1a1a" stroke="#1a1a1a" stroke-width="0.12" textLength="54.48" lengthAdjust="spacingAndGlyphs">CGTCCATTCACA</text>
<line x1="462.68" y1="683.90" x2="465.82" y2="683.90" stroke="#d8506a" stroke-width="0.85" stroke-dasharray="3.1,1.44"/>
<text x="466.52" y="686.10" font-size="7.1" font-family='"Liberation Mono", monospace' font-weight="bold" fill="#1a1a1a" stroke="#1a1a1a" stroke-width="0.12" textLength="13.62" lengthAdjust="spacingAndGlyphs">GGG</text>
<line x1="466.52" y1="687.60" x2="480.14" y2="687.60" stroke="#222" stroke-width="0.8"/>
<text x="480.14" y="686.10" font-size="7.1" font-family='"Liberation Mono", monospace' fill="#888" textLength="18.16" lengthAdjust="spacingAndGlyphs">TCAC</text>
<rect x="504.00" y="680.80" width="5.7" height="5.7" fill="#3b1272"/>
<text x="374.30" y="699.92" font-size="8.3" font-family='"Liberation Sans", sans-serif' fill="#333" stroke="#333" stroke-width="0" textLength="27.6" lengthAdjust="spacingAndGlyphs">Indel 22</text>
<text x="407.50" y="699.42" font-size="7.1" font-family='"Liberation Mono", monospace' font-weight="bold" fill="#1a1a1a" stroke="#1a1a1a" stroke-width="0.12" textLength="40.86" lengthAdjust="spacingAndGlyphs">CGTCCATTC</text>
<line x1="449.06" y1="697.22" x2="497.60" y2="697.22" stroke="#d8506a" stroke-width="0.85" stroke-dasharray="3.1,1.44"/>
<rect x="504.00" y="694.12" width="5.7" height="5.7" fill="#7c7c7c"/>
<text x="374.30" y="713.24" font-size="8.3" font-family='"Liberation Sans", sans-serif' fill="#333" stroke="#333" stroke-width="0" textLength="27.6" lengthAdjust="spacingAndGlyphs">Indel 23</text>
<text x="407.50" y="712.74" font-size="7.1" font-family='"Liberation Mono", monospace' font-weight="bold" fill="#1a1a1a" stroke="#1a1a1a" stroke-width="0.12" textLength="45.40" lengthAdjust="spacingAndGlyphs">CGTCCATTCT</text>
<line x1="453.60" y1="710.54" x2="465.82" y2="710.54" stroke="#d8506a" stroke-width="0.85" stroke-dasharray="3.1,1.44"/>
<text x="466.52" y="712.74" font-size="7.1" font-family='"Liberation Mono", monospace' font-weight="bold" fill="#1a1a1a" stroke="#1a1a1a" stroke-width="0.12" textLength="13.62" lengthAdjust="spacingAndGlyphs">GGG</text>
<line x1="466.52" y1="714.24" x2="480.14" y2="714.24" stroke="#222" stroke-width="0.8"/>
<text x="480.14" y="712.74" font-size="7.1" font-family='"Liberation Mono", monospace' fill="#888" textLength="18.16" lengthAdjust="spacingAndGlyphs">TCAC</text>
<rect x="504.00" y="707.44" width="5.7" height="5.7" fill="#23ee23"/>
</svg>
</body></html>
